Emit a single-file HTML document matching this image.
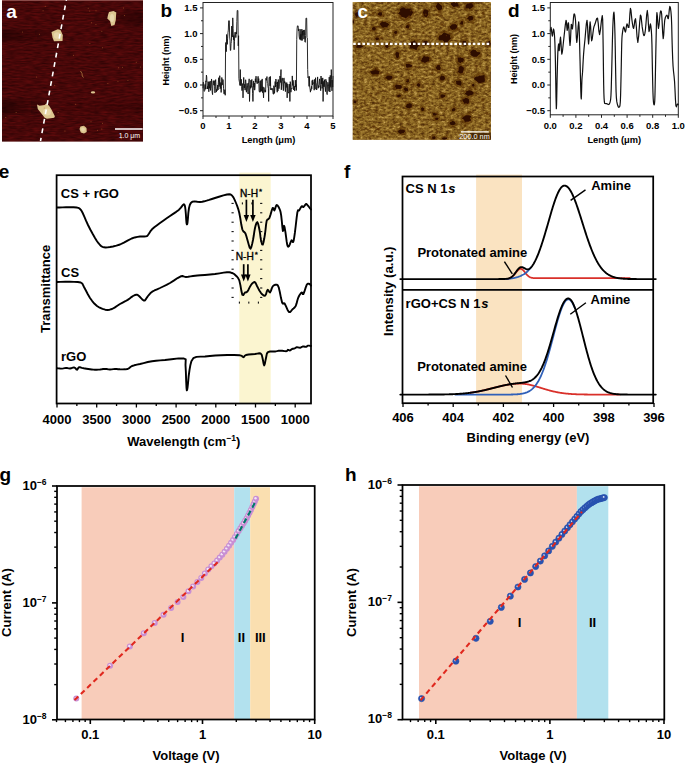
<!DOCTYPE html>
<html><head><meta charset="utf-8"><title>Figure</title>
<style>html,body{margin:0;padding:0;background:#fff;}svg{display:block;}text{font-family:"Liberation Sans", sans-serif;}</style>
</head><body>
<svg width="685" height="763" viewBox="0 0 685 763" font-family="Liberation Sans, sans-serif">
<rect width="685" height="763" fill="#fff"/>
<defs>
<filter id="na" x="0" y="0" width="100%" height="100%" color-interpolation-filters="sRGB">
<feTurbulence type="fractalNoise" baseFrequency="0.12 0.6" numOctaves="2" seed="5"/>
<feColorMatrix type="matrix" values="0.26 0 0 0 0.15  0.04 0 0 0 0.008  0.04 0 0 0 0.012  0 0 0 0 1"/>
</filter>
<filter id="nc" x="0" y="0" width="100%" height="100%" color-interpolation-filters="sRGB">
<feTurbulence type="fractalNoise" baseFrequency="0.28 0.42" numOctaves="3" seed="11"/>
<feColorMatrix type="matrix" values="1 0 0 0 0  1 0 0 0 0  1 0 0 0 0  0 0 0 0 1"/>
<feComponentTransfer><feFuncR type="table" tableValues="0.275 0.298 0.345 0.408 0.471 0.533 0.588 0.659 0.737 0.800 0.843"/><feFuncG type="table" tableValues="0.149 0.169 0.204 0.259 0.325 0.392 0.447 0.514 0.600 0.659 0.698"/><feFuncB type="table" tableValues="0.031 0.035 0.047 0.067 0.098 0.129 0.165 0.216 0.306 0.361 0.400"/></feComponentTransfer>
</filter>
<filter id="bl" x="-50%" y="-50%" width="200%" height="200%"><feGaussianBlur stdDeviation="0.6"/></filter>
<filter id="bl2" x="-50%" y="-50%" width="200%" height="200%"><feGaussianBlur stdDeviation="0.9"/></filter>
<clipPath id="ca"><rect x="2" y="0" width="141" height="141.5"/></clipPath>
<clipPath id="cc"><rect x="352.7" y="1.9" width="138.2" height="137.9"/></clipPath>
</defs>
<g clip-path="url(#ca)">
<rect x="2" y="0" width="141" height="141.5" fill="#5A0E08" />
<rect x="2" y="0" width="141" height="141.5" fill="#000" filter="url(#na)"/>
<linearGradient id="gd1" x1="0" x2="1" y1="0" y2="0"><stop offset="0" stop-color="#1A0201" stop-opacity="0.55"/><stop offset="1" stop-color="#1A0201" stop-opacity="0"/></linearGradient>
<linearGradient id="gd2" x1="1" x2="0" y1="0" y2="0"><stop offset="0" stop-color="#1A0201" stop-opacity="0.5"/><stop offset="1" stop-color="#1A0201" stop-opacity="0"/></linearGradient>
<rect x="2" y="30" width="55" height="11" fill="url(#gd1)" filter="url(#bl2)"/>
<rect x="2" y="100" width="48" height="14" fill="url(#gd1)" filter="url(#bl2)"/>
<rect x="90" y="12" width="53" height="12" fill="url(#gd2)" filter="url(#bl2)"/>
<rect x="60" y="104" width="83" height="6" fill="url(#gd2)" opacity="0.5" filter="url(#bl2)"/>
<rect x="2" y="0" width="141" height="1" fill="#8A4A48" />
<g filter="url(#bl)">
<polygon points="109,12 113.5,11 116.3,12.5 116,16 115.8,20 114.5,25 111.3,26 110,21 107.3,18.5 108,15" fill="#DCC690"/>
<polygon points="51.5,32 57.8,29.2 60.5,30 62.8,35 62.5,41 54,41.3 52.5,37.5" fill="#DCC690"/>
<polygon points="37,104.6 39.6,105.7 44.7,105 46.2,103.5 49.1,105.7 51.6,109.7 54.9,116.3 54.2,117.7 46.9,118.8 44.7,117.7 41.8,114.1 37.8,109" fill="#DCC690"/>
<polygon points="80.5,126.5 84,125.8 86.5,128 86.7,132 84,133.6 80.8,132.5 79.5,129" fill="#DCC690"/>
<ellipse cx="93" cy="92.4" rx="2.2" ry="1.1" fill="#DCC690"/>
<ellipse cx="112" cy="18" rx="2" ry="4" fill="#EEE0B8" opacity="0.7"/>
<ellipse cx="57" cy="35.5" rx="3.2" ry="3.2" fill="#EEE0B8" opacity="0.6"/>
<ellipse cx="47" cy="112" rx="4" ry="3.5" fill="#EEE0B8" opacity="0.6"/>
<ellipse cx="83" cy="129.5" rx="1.8" ry="2" fill="#EEE0B8" opacity="0.6"/>
<polyline points="80.5,71 82,73.5 82.3,76 83.5,77.5" fill="none" stroke="#B07A40" stroke-width="0.8"/>
</g>
<circle cx="36.6" cy="77.1" r="0.5" fill="#B86A30" opacity="0.7"/>
<circle cx="54.68" cy="85.34" r="0.5" fill="#B86A30" opacity="0.7"/>
<circle cx="89.72" cy="11.04" r="0.5" fill="#B86A30" opacity="0.7"/>
<circle cx="5.8" cy="117.57" r="0.5" fill="#B86A30" opacity="0.7"/>
<circle cx="39.53" cy="34.34" r="0.5" fill="#B86A30" opacity="0.7"/>
<circle cx="140.4" cy="66.9" r="0.5" fill="#B86A30" opacity="0.7"/>
<circle cx="118.6" cy="67.74" r="0.5" fill="#B86A30" opacity="0.7"/>
<circle cx="91.55" cy="22.79" r="0.5" fill="#B86A30" opacity="0.7"/>
<circle cx="90.98" cy="121.79" r="0.5" fill="#B86A30" opacity="0.7"/>
<circle cx="75.68" cy="104.29" r="0.5" fill="#B86A30" opacity="0.7"/>
<circle cx="95.98" cy="10.84" r="0.5" fill="#B86A30" opacity="0.7"/>
<circle cx="107.88" cy="83.57" r="0.5" fill="#B86A30" opacity="0.7"/>
<circle cx="45.27" cy="6.28" r="0.5" fill="#B86A30" opacity="0.7"/>
<circle cx="122.58" cy="67.24" r="0.5" fill="#B86A30" opacity="0.7"/>
<circle cx="102.48" cy="123.28" r="0.5" fill="#B86A30" opacity="0.7"/>
<circle cx="101.84" cy="129.11" r="0.5" fill="#B86A30" opacity="0.7"/>
<circle cx="58.11" cy="112.53" r="0.5" fill="#B86A30" opacity="0.7"/>
<circle cx="64.91" cy="131.11" r="0.5" fill="#B86A30" opacity="0.7"/>
<circle cx="124.4" cy="15.45" r="0.5" fill="#B86A30" opacity="0.7"/>
<circle cx="22.63" cy="31.94" r="0.5" fill="#B86A30" opacity="0.7"/>
<circle cx="136.27" cy="62.19" r="0.5" fill="#B86A30" opacity="0.7"/>
<circle cx="89.85" cy="43.54" r="0.5" fill="#B86A30" opacity="0.7"/>
<circle cx="73.49" cy="55.25" r="0.5" fill="#B86A30" opacity="0.7"/>
<circle cx="52.07" cy="82.74" r="0.5" fill="#B86A30" opacity="0.7"/>
<circle cx="84.04" cy="126.78" r="0.5" fill="#B86A30" opacity="0.7"/>
<circle cx="97.43" cy="130.19" r="0.5" fill="#B86A30" opacity="0.7"/>
<circle cx="121.33" cy="138.76" r="0.5" fill="#B86A30" opacity="0.7"/>
<circle cx="95.96" cy="24.51" r="0.5" fill="#B86A30" opacity="0.7"/>
<circle cx="121.91" cy="135.12" r="0.5" fill="#B86A30" opacity="0.7"/>
<circle cx="127.94" cy="80.54" r="0.5" fill="#B86A30" opacity="0.7"/>
<circle cx="101.79" cy="31.14" r="0.5" fill="#B86A30" opacity="0.7"/>
<circle cx="117.93" cy="81.15" r="0.5" fill="#B86A30" opacity="0.7"/>
<circle cx="43.04" cy="10.76" r="0.5" fill="#B86A30" opacity="0.7"/>
<circle cx="120.99" cy="138.59" r="0.5" fill="#B86A30" opacity="0.7"/>
<circle cx="16.13" cy="112.48" r="0.5" fill="#B86A30" opacity="0.7"/>
<circle cx="60.23" cy="22.81" r="0.5" fill="#B86A30" opacity="0.7"/>
<circle cx="44.26" cy="108.09" r="0.5" fill="#B86A30" opacity="0.7"/>
<circle cx="123.57" cy="8.1" r="0.5" fill="#B86A30" opacity="0.7"/>
<circle cx="88.19" cy="8.2" r="0.5" fill="#B86A30" opacity="0.7"/>
<circle cx="102.43" cy="47.67" r="0.5" fill="#B86A30" opacity="0.7"/>
<line x1="66.4" y1="-0.5" x2="40.5" y2="141" stroke="#fff" stroke-width="1.6" stroke-dasharray="4.8 4.81" stroke-dashoffset="3.51"/>
<line x1="115" y1="129" x2="142.6" y2="129" stroke="#fff" stroke-width="1.6" />
<text x="129.4" y="137.6" font-size="7" font-weight="normal" text-anchor="middle" fill="#fff" >1.0 μm</text>
</g>
<text x="6.3" y="17.5" font-size="19" font-weight="bold" text-anchor="start" fill="#fff" >a</text>
<polyline fill="none" stroke="#111" stroke-width="0.9" stroke-linejoin="round" stroke-linecap="round" points="203,87.9 203.34,82.17 203.68,83.72 204.03,91.26 204.37,91.31 204.71,90.52 205.05,84.48 205.39,89.27 205.74,80.89 206.08,81.68 206.42,75.13 206.76,77.15 207.11,89.03 207.45,86.52 207.79,88.85 208.13,81.6 208.47,83.41 208.82,91.77 209.16,81.9 209.5,88.28 209.84,86.34 210.18,81.05 210.53,90.41 210.87,86.05 211.21,82.91 211.55,78.97 211.89,88.33 212.24,92.77 212.58,94.63 212.92,82.64 213.26,80.7 213.61,83.5 213.95,85.17 214.29,80.63 214.63,86.35 214.97,92.83 215.32,82.84 215.66,79.61 216,86.44 216.34,92.08 216.68,89.37 217.03,90.88 217.37,89.48 217.71,84.99 218.05,89.95 218.39,82.16 218.74,77.69 219.08,86.62 219.42,85.4 219.76,75.69 220.11,88.75 220.45,88.06 220.79,82.49 221.13,92.43 221.47,86.77 221.82,77.51 222.16,85.06 222.5,82.76 222.84,79.41 223.18,80.11 223.53,88.3 223.87,93.26 224.21,94.1 224.55,91.8 224.89,89.68 225.24,95.26 225.58,44.2 225.92,42.43 226.26,51.66 226.61,34.51 226.95,38.11 227.29,44.36 227.63,38.22 227.97,32.67 228.32,30.11 228.66,20.75 229,20.75 229.34,20.75 229.68,36.95 230.03,40.15 230.37,50.49 230.71,50.33 231.05,43.52 231.39,41.73 231.74,26.12 232.08,36.31 232.42,37.04 232.76,17.86 233.11,28.47 233.45,39.75 233.79,35.61 234.13,49.72 234.47,41.47 234.82,32.26 235.16,32.64 235.5,32.62 235.84,37.55 236.18,31.91 236.53,34.02 236.87,21.6 237.21,10.47 237.55,10.47 237.89,10.47 238.24,45.87 238.58,35.71 238.92,78.62 239.26,81.32 239.61,82.12 239.95,85.46 240.29,69.58 240.63,85.53 240.97,82.99 241.32,79.3 241.66,86.53 242,90.65 242.34,83.99 242.68,83.56 243.03,97.85 243.37,85.57 243.71,77.44 244.05,84.79 244.39,87.97 244.74,84.23 245.08,90.12 245.42,79.9 245.76,79.82 246.11,89.74 246.45,92.23 246.79,85.37 247.13,83.32 247.47,85.92 247.82,91.49 248.16,94.01 248.5,82.69 248.84,82.54 249.18,78.83 249.53,101.45 249.87,90.44 250.21,85.63 250.55,88.34 250.89,80.16 251.24,87.43 251.58,79.89 251.92,79.41 252.26,85.46 252.61,93.58 252.95,101.45 253.29,90.36 253.63,80.92 253.97,87.15 254.32,83.06 254.66,90.16 255,87.57 255.34,78.75 255.68,82.06 256.03,76.2 256.37,81.09 256.71,82.77 257.05,83.83 257.39,83.55 257.74,80.11 258.08,76.35 258.42,82.92 258.76,78.62 259.11,90.77 259.45,91.93 259.79,92.27 260.13,80.92 260.47,91.6 260.82,83.58 261.16,80.18 261.5,91.31 261.84,88.55 262.18,78.93 262.53,92.62 262.87,86.79 263.21,91.99 263.55,97.85 263.89,87.37 264.24,88.37 264.58,89.57 264.92,92.27 265.26,90.04 265.61,92.07 265.95,78.21 266.29,80.33 266.63,78.45 266.97,76.55 267.32,83.01 267.66,83.46 268,86.82 268.34,88.25 268.68,101.45 269.03,77.98 269.37,77.12 269.71,77.12 270.05,85.88 270.39,76.42 270.74,89.79 271.08,88.28 271.42,89.87 271.76,89.55 272.11,88.2 272.45,88.79 272.79,90.98 273.13,93.93 273.47,94.26 273.82,85.71 274.16,87.17 274.5,93.39 274.84,88.13 275.18,81.55 275.53,86.93 275.87,79.03 276.21,81.36 276.55,84.4 276.89,88.91 277.24,92.22 277.58,81.86 277.92,91.02 278.26,79.53 278.61,81.98 278.95,88.68 279.29,84.78 279.63,84.7 279.97,75.95 280.32,82.54 280.66,75.48 281,69.58 281.34,89.8 281.68,80.38 282.03,78.46 282.37,77.9 282.71,81.86 283.05,86.8 283.39,90.6 283.74,78.25 284.08,77.93 284.42,83.14 284.76,81.45 285.11,88.98 285.45,91.61 285.79,82.55 286.13,87.53 286.47,86.51 286.82,82.64 287.16,97.85 287.5,85.65 287.84,84.05 288.18,91.46 288.53,92.97 288.87,93.28 289.21,85.62 289.55,84.26 289.89,101.45 290.24,81.65 290.58,84.82 290.92,92.18 291.26,88.77 291.61,88.21 291.95,88.88 292.29,75.91 292.63,85.41 292.97,80.24 293.32,81.18 293.66,89.95 294,86.99 294.34,86.18 294.68,91.05 295.03,86.96 295.37,80.18 295.71,87.01 296.05,84.42 296.39,90.42 296.74,39.57 297.08,28.76 297.42,25.89 297.76,25.89 298.11,25.89 298.45,30.96 298.79,28.9 299.13,36.1 299.47,38.61 299.82,39.43 300.16,29.22 300.5,39.41 300.84,34.27 301.18,40.37 301.53,35.07 301.87,29.12 302.21,40.5 302.55,30.96 302.89,35.28 303.24,30.03 303.58,32.58 303.92,39.13 304.26,29.88 304.61,35.59 304.95,41.99 305.29,42.29 305.63,35.51 305.97,18.18 306.32,18.18 306.66,18.18 307,37.56 307.34,37.95 307.68,69.58 308.03,77.82 308.37,76.63 308.71,77.32 309.05,86.34 309.39,76.37 309.74,87.21 310.08,88.97 310.42,92.17 310.76,89.47 311.11,90.36 311.45,86.32 311.79,88.8 312.13,80.56 312.47,84.84 312.82,79.8 313.16,83.43 313.5,83.16 313.84,82.7 314.18,90.2 314.53,79.43 314.87,86.64 315.21,89.21 315.55,77.72 315.89,82.64 316.24,83.91 316.58,89.98 316.92,88.98 317.26,83.92 317.61,76.91 317.95,84.18 318.29,88.23 318.63,85.64 318.97,87.25 319.32,81.8 319.66,78.88 320,84.51 320.34,85.27 320.68,90.66 321.03,76.02 321.37,83.95 321.71,78.36 322.05,88.43 322.39,86.66 322.74,77.9 323.08,101.45 323.42,87.25 323.76,81.31 324.11,86.73 324.45,79.69 324.79,86.46 325.13,87.86 325.47,91.6 325.82,79.27 326.16,81.6 326.5,81.12 326.84,93.45 327.18,94.59 327.53,84.97 327.87,82.26 328.21,83.38 328.55,86.14 328.89,91.35 329.24,77.12 329.58,88.02 329.92,92 330.26,75.36 330.61,86.32 330.95,87.37 331.29,69.58 331.63,79.59 331.97,90.82 332.32,80.14 332.66,87.12 333,76.31" />
<rect x="203" y="2.5" width="130" height="113.5" fill="none" stroke="#222" stroke-width="1"/>
<line x1="200" y1="110.7" x2="203" y2="110.7" stroke="#222" stroke-width="1" />
<text x="197.5" y="114" font-size="9.5" font-weight="bold" text-anchor="end" fill="#000" >−0.5</text>
<line x1="201" y1="97.85" x2="203" y2="97.85" stroke="#222" stroke-width="1" />
<line x1="200" y1="85" x2="203" y2="85" stroke="#222" stroke-width="1" />
<text x="197.5" y="88.3" font-size="9.5" font-weight="bold" text-anchor="end" fill="#000" >0.0</text>
<line x1="201" y1="72.15" x2="203" y2="72.15" stroke="#222" stroke-width="1" />
<line x1="200" y1="59.3" x2="203" y2="59.3" stroke="#222" stroke-width="1" />
<text x="197.5" y="62.6" font-size="9.5" font-weight="bold" text-anchor="end" fill="#000" >0.5</text>
<line x1="201" y1="46.45" x2="203" y2="46.45" stroke="#222" stroke-width="1" />
<line x1="200" y1="33.6" x2="203" y2="33.6" stroke="#222" stroke-width="1" />
<text x="197.5" y="36.9" font-size="9.5" font-weight="bold" text-anchor="end" fill="#000" >1.0</text>
<line x1="201" y1="20.75" x2="203" y2="20.75" stroke="#222" stroke-width="1" />
<line x1="200" y1="7.9" x2="203" y2="7.9" stroke="#222" stroke-width="1" />
<text x="197.5" y="11.2" font-size="9.5" font-weight="bold" text-anchor="end" fill="#000" >1.5</text>
<line x1="203" y1="116" x2="203" y2="119" stroke="#222" stroke-width="1" />
<text x="203" y="128.9" font-size="9.5" font-weight="bold" text-anchor="middle" fill="#000" >0</text>
<line x1="216" y1="116" x2="216" y2="118" stroke="#222" stroke-width="1" />
<line x1="229" y1="116" x2="229" y2="119" stroke="#222" stroke-width="1" />
<text x="229" y="128.9" font-size="9.5" font-weight="bold" text-anchor="middle" fill="#000" >1</text>
<line x1="242" y1="116" x2="242" y2="118" stroke="#222" stroke-width="1" />
<line x1="255" y1="116" x2="255" y2="119" stroke="#222" stroke-width="1" />
<text x="255" y="128.9" font-size="9.5" font-weight="bold" text-anchor="middle" fill="#000" >2</text>
<line x1="268" y1="116" x2="268" y2="118" stroke="#222" stroke-width="1" />
<line x1="281" y1="116" x2="281" y2="119" stroke="#222" stroke-width="1" />
<text x="281" y="128.9" font-size="9.5" font-weight="bold" text-anchor="middle" fill="#000" >3</text>
<line x1="294" y1="116" x2="294" y2="118" stroke="#222" stroke-width="1" />
<line x1="307" y1="116" x2="307" y2="119" stroke="#222" stroke-width="1" />
<text x="307" y="128.9" font-size="9.5" font-weight="bold" text-anchor="middle" fill="#000" >4</text>
<line x1="320" y1="116" x2="320" y2="118" stroke="#222" stroke-width="1" />
<line x1="333" y1="116" x2="333" y2="119" stroke="#222" stroke-width="1" />
<text x="333" y="128.9" font-size="9.5" font-weight="bold" text-anchor="middle" fill="#000" >5</text>
<text x="268.5" y="143.3" font-size="9.3" font-weight="bold" text-anchor="middle" fill="#000" >Length (μm)</text>
<text transform="translate(168.8,60.5) rotate(-90)" font-size="9" font-weight="bold" text-anchor="middle" fill="#000">Height (nm)</text>
<text x="160.5" y="17.3" font-size="19" font-weight="bold" text-anchor="start" fill="#000" >b</text>
<g clip-path="url(#cc)">
<rect x="352.7" y="1.9" width="138.2" height="137.9" fill="#A87A30" />
<rect x="352.7" y="1.9" width="138.2" height="137.9" fill="#000" filter="url(#nc)"/>
<g filter="url(#bl)">
<polygon points="360.39,14.5 360.08,16.96 358.06,18.78 355.77,18.51 354.01,16.81 353.76,14.5 353.95,12.29 355.78,10.76 358.07,10.95 360.35,11.89" fill="#5A3208" opacity="0.55"/>
<polygon points="358.53,14.14 358.18,15.27 357.66,16.33 357.54,17.04 356.53,17.21 355.67,16.03 355.35,15.15 355.77,14.32 356.06,13.11 356.65,12.77 357.66,11.9 358.32,12.56 358.8,13.41" fill="#2E0C03"/>
<polygon points="357.75,14.66 358.01,15.79 357.39,15.75 356.8,16.08 355.93,15.85 355.99,15.5 354.81,14.82 355.27,14.06 355.43,13.1 355.94,12.81 356.84,12.6 357.13,13.24 358.14,13.32" fill="#2E0C03"/>
<polygon points="414.49,13 412.8,17.14 408.44,20.98 403.09,20.18 398.55,17.78 396.33,13 399.03,7.87 402.97,5.43 408.98,5.61 412.92,8.7" fill="#5A3208" opacity="0.55"/>
<polygon points="413.19,11.93 411.03,15.9 407.99,16.36 407.15,17.45 404.42,16.94 402.57,16.69 398.04,13.56 400.3,11.27 399.6,9.04 403.58,7.36 405.66,8.71 410.89,8.4 412.16,11.19" fill="#2E0C03"/>
<polygon points="410.01,13.76 409.44,14.96 407.36,15.8 406.04,18.64 404.85,17.63 401.04,16.42 401.68,13.98 399.56,12.15 403.36,10.74 403.91,10.54 405.41,9.19 408.42,8.61 409.16,11.93" fill="#2E0C03"/>
<polygon points="384.74,14 383.89,16.02 381.69,17.24 379.24,17.69 377.06,15.93 376.08,14 376.87,11.68 379.36,10.52 381.66,10.26 383.63,11.72" fill="#5A3208" opacity="0.55"/>
<polygon points="382.05,13.91 382.24,14.65 381.32,15.38 380.77,15.79 379.66,15.12 378.8,15.11 377.7,14.33 378.07,13.68 378.82,12.78 379.16,12.2 381.11,12.49 381.95,12.02 381.79,13.23" fill="#2E0C03"/>
<polygon points="381.65,14.45 381.02,14.81 380.84,15.47 380.15,15.61 379.51,15.41 378.93,15.37 378.11,14.85 378.1,13.74 378.86,13.56 379.28,13.04 380.36,12.53 380.7,13.06 381.72,13.57" fill="#2E0C03"/>
<polygon points="391.16,24.75 389.5,27.86 386.24,29.89 382.14,29.69 379.38,27.97 378.02,24.75 378.65,21.5 382,20.59 386.07,20.24 389.2,22.08" fill="#5A3208" opacity="0.55"/>
<polygon points="389.33,24.46 387.49,26.27 387.77,27.4 384.33,27.07 382.92,27.71 381.48,26.22 380.63,24.9 379.35,24.26 380.47,23 382.22,22.08 384.32,22.12 386.97,22.77 387.97,23.26" fill="#2E0C03"/>
<polygon points="386.45,24.13 387.58,25.25 386.43,26.13 383.5,26.78 383.15,26.46 381.58,26.14 381.04,24.53 380.39,24.12 381.3,23.15 382.2,21.59 383.87,22.47 386.25,22.17 385.75,23.48" fill="#2E0C03"/>
<polygon points="377.41,29 377.02,31.02 375.22,32.8 372.74,32.84 371.37,31.21 370.69,29 370.83,26.69 372.95,25.87 375.23,25.4 377.07,26.85" fill="#5A3208" opacity="0.55"/>
<polygon points="375.58,28.85 375.74,29.74 374.55,30.15 374.51,30.69 373.41,30.28 373.13,29.92 372.41,29.72 372.18,28.41 372.91,28.27 373.66,27.24 374.16,27.05 375.14,27.64 375.68,27.72" fill="#2E0C03"/>
<polygon points="375.14,28.46 374.67,29.11 374.41,29.75 374.15,30.19 372.89,30.1 372.8,29.24 371.97,28.77 372.01,28.1 372.92,27.51 373.38,26.79 373.94,27.6 374.49,27.26 375.18,27.85" fill="#2E0C03"/>
<polygon points="411.53,26.55 410.99,28.77 408.91,29.85 406.35,30.16 404.42,28.88 403.56,26.55 404.93,24.4 406.58,22.96 408.89,23.11 410.4,24.6" fill="#5A3208" opacity="0.55"/>
<polygon points="409.59,26.18 408.91,27.04 408.41,28.2 407.58,28.36 407.33,28.02 406.23,27.89 405.59,26.83 406.2,26.1 406.38,25.49 407.1,25.12 407.89,24.82 408.53,24.58 409.57,25.62" fill="#2E0C03"/>
<polygon points="409.19,27.05 408.79,27.21 408.67,28.08 408.06,28.66 407.61,27.94 406.51,27.8 406.89,27.04 406.19,26.46 406.84,25.86 407.28,25.36 408.15,25.2 409.03,25.57 408.93,26.17" fill="#2E0C03"/>
<polygon points="399.42,32.45 398.82,34.32 396.9,36.03 394.8,35.56 392.88,34.29 392.04,32.45 392.85,30.53 394.76,29.42 396.81,29.01 398.34,30.34" fill="#5A3208" opacity="0.55"/>
<polygon points="396.98,32.38 396.79,32.82 396.48,33.7 396.26,34.28 395.31,33.43 394.44,33.41 394.27,32.85 394.47,31.87 394.57,31.28 395.19,31.18 396.12,30.83 396.61,31.16 397.25,31.44" fill="#2E0C03"/>
<polygon points="396.34,32.56 396.45,33.21 396.18,33.45 395.7,33.98 395.01,33.62 394.74,33.23 394.44,32.92 393.9,32.15 394.57,32.04 395.01,31.7 395.45,31.15 395.97,31.36 396.14,32.17" fill="#2E0C03"/>
<polygon points="380.46,38.85 379.69,40.61 378.16,42.16 375.85,42.04 374.37,40.66 373.47,38.85 374.12,36.82 375.99,35.78 378.25,35.58 380.04,37.1" fill="#5A3208" opacity="0.55"/>
<polygon points="379.02,39.14 378.5,39.6 378.06,39.75 377.11,40.34 376.35,40.38 376.06,39.77 375.57,39.33 375.1,38.3 375.72,38.19 376.05,37.55 377.14,37.73 378.13,37.43 378.71,38.1" fill="#2E0C03"/>
<polygon points="378.41,38.85 378.43,39.21 377.92,39.58 377.56,40.16 376.76,39.66 376.42,39.53 375.88,38.92 376.02,38.56 376.17,38.09 376.75,37.76 377.21,37.9 378.14,37.78 378.4,38.41" fill="#2E0C03"/>
<polygon points="364.5,46.25 364.04,48.09 360.85,49.73 357.15,49.89 353.93,48.14 352.56,46.25 354.49,44 357.37,43.07 360.83,43.17 363.38,44.09" fill="#5A3208" opacity="0.55"/>
<polygon points="363.29,46.47 362.38,47.35 360.4,47.65 359.14,47.79 356.99,47.68 356.18,47.4 356.45,46.62 356.35,46.02 356.75,45.68 357.48,44.59 358.77,44.59 360.53,44.86 361.86,45.46" fill="#2E0C03"/>
<polygon points="362.62,46.11 361.82,46.53 361.12,47.46 359.26,47.21 358.43,47.16 356.7,47.07 357.08,46.59 357.1,45.72 357.03,45.14 357.99,44.88 359.23,45.08 360.57,45.19 361.05,45.69" fill="#2E0C03"/>
<polygon points="421.63,45.2 420.02,49.11 416.87,51.97 412.65,50.94 409.14,48.68 407.57,45.2 409.79,41.61 412.76,38.52 416.87,38.59 420.22,41.58" fill="#5A3208" opacity="0.55"/>
<polygon points="419.78,45.06 417.06,47.15 416.81,50.05 415.33,49.87 413.19,48.2 410.53,48.63 409.54,45.67 410.05,44.84 410.81,41.72 412.68,41.39 414.55,40.2 416.55,42.92 417.4,43.47" fill="#2E0C03"/>
<polygon points="419.18,44.76 417.5,47.52 416.65,48.09 415.26,48.65 413.75,49.18 413.12,47.72 412.32,45.89 410.89,45.22 412.44,43.75 413.83,42.92 415.23,42.08 416.48,42.42 416.93,43.99" fill="#2E0C03"/>
<polygon points="400.91,54.9 400.32,57.7 398.57,59.86 396.04,59.99 393.91,57.72 393.19,54.9 394.03,51.77 395.99,49.62 398.4,49.92 400.81,51.93" fill="#5A3208" opacity="0.55"/>
<polygon points="398.92,55.12 398.81,56.41 398.17,56.92 397.77,58.37 396.38,57.75 396.16,56.83 395.65,55.03 395.11,54.08 395.73,52.91 396.85,51.55 397.28,52.14 398.44,52.19 398.78,53.91" fill="#2E0C03"/>
<polygon points="398.81,54.4 398.62,55.57 398.52,57.39 397.38,57.28 396.71,56.8 395.95,56.62 396.15,55.64 396.07,54.39 396.59,53.72 396.89,51.94 397.48,52.93 398.42,52.43 399,53.28" fill="#2E0C03"/>
<polygon points="413.31,65.7 412.96,68.15 409.95,69.93 406.75,69.48 403.9,68.11 403.7,65.7 403.94,63.37 407.07,62.21 409.99,61.82 412.88,63.38" fill="#5A3208" opacity="0.55"/>
<polygon points="411.89,65.56 411.39,66.42 410.05,66.83 408.93,67.2 407.46,67.8 405.73,67.25 406.31,66.07 405.78,65.08 405.8,63.78 407.61,64.11 408.7,63.69 409.66,64.4 411.41,64.59" fill="#2E0C03"/>
<polygon points="411.93,66.29 411.46,66.76 411.1,67.35 409.13,67.37 408.33,67.3 407.13,66.88 405.98,66.26 406.93,65.49 406.58,64.73 408.66,64.73 409.24,64.1 410.43,64.94 411.82,65" fill="#2E0C03"/>
<polygon points="390.12,46.5 389.9,48.55 388.03,49.5 385.51,49.87 383.85,48.24 383.23,46.5 383.99,44.61 385.47,43.7 387.94,43.46 390.12,44.63" fill="#5A3208" opacity="0.55"/>
<polygon points="388.14,46.6 388.13,47.2 387.69,48.05 386.96,47.73 386.36,47.59 385.81,47.28 385.48,46.64 384.92,46.11 385.47,45.5 386.46,45.39 386.67,45.12 387.9,45 388.66,46.05" fill="#2E0C03"/>
<polygon points="388.42,46.3 388.3,46.7 388,47.25 387.54,47.33 386.7,47.64 385.94,47.03 385.55,46.68 385.38,45.89 386.2,45.69 386.78,45.59 387.37,45.41 387.8,45.69 388.12,45.95" fill="#2E0C03"/>
<polygon points="378.77,71.75 378.74,74.59 376.65,76.81 374.23,76.2 372.37,74.87 371.55,71.75 372.53,68.63 374.43,67.04 376.68,66.62 378.3,68.71" fill="#5A3208" opacity="0.55"/>
<polygon points="377.41,71.72 377.42,73.62 376.7,73.89 375.69,74.14 374.81,73.65 374.65,73.23 373.61,72.32 373.31,71.28 374.49,70.13 375.1,68.33 375.6,68.26 376.2,69.44 377.46,69.95" fill="#2E0C03"/>
<polygon points="376.97,71.25 376.9,72.53 376.19,73.41 375.26,73.5 374.74,73.86 374.29,72.93 374.08,71.93 374.34,71.4 374.24,69.91 375.03,69.83 375.56,69.4 376.27,69.32 376.49,70.56" fill="#2E0C03"/>
<polygon points="355.76,21.75 355.35,23.78 353.73,25 352.09,25.4 350.88,23.65 350.05,21.75 351.1,19.86 352.18,18.35 353.74,18.62 355.28,19.81" fill="#5A3208" opacity="0.55"/>
<polygon points="353.98,21.71 353.93,22.59 353.64,23.39 353,23.49 352.67,23.28 352.54,22.54 351.96,21.91 351.99,21.11 352.16,20.39 352.58,19.89 352.96,20.34 353.62,20.27 353.92,20.92" fill="#2E0C03"/>
<polygon points="353.68,22.06 353.67,22.29 353.38,22.65 353.16,23.28 352.76,23.26 352.58,22.69 352.06,22.16 352.19,21.81 352.35,21.07 352.69,21.17 352.9,20.38 353.36,20.82 353.57,21.1" fill="#2E0C03"/>
<polygon points="444.19,6.75 443.06,10.25 440.57,12.05 437.36,11.77 434.74,9.82 433.94,6.75 434.54,3.3 437.56,1.95 440.34,1.67 443,3.72" fill="#5A3208" opacity="0.55"/>
<polygon points="441.85,6.47 442.07,8.63 441.22,9.75 439.07,9.94 438.33,10.27 436.88,8.44 436.17,7.27 435.58,6.44 436.77,4.79 438.04,2.83 439.55,3.84 440.33,4.86 441.22,5.35" fill="#2E0C03"/>
<polygon points="442.06,7.37 441.38,8.2 440.83,8.89 440.06,10.09 438.89,10.4 437.84,8.77 437.53,8.14 437.84,6.63 438.26,5.27 438.76,5.07 439.6,4.92 440.54,5.76 441.45,5.74" fill="#2E0C03"/>
<polygon points="460.72,4.7 459.58,7.01 456.52,8.83 452.78,8.82 450,7.39 449.08,4.7 450.26,2.04 452.88,0.35 456.77,0.21 460.18,2.28" fill="#5A3208" opacity="0.55"/>
<polygon points="458.36,4.58 458.55,6.54 456.26,6.53 455.57,6.55 453,7.12 453.16,5.97 451.41,4.79 451.12,4.57 450.99,3.19 453.38,2.32 455.57,2.97 456.82,2.24 457.98,3.73" fill="#2E0C03"/>
<polygon points="458.2,5.29 457.52,6.35 455.87,5.83 454.42,6.45 453.39,6.59 451.98,5.79 452.2,5.44 451.16,3.97 451.23,3.52 453.08,2.88 454.98,2.57 455.63,3.76 457.7,3.84" fill="#2E0C03"/>
<polygon points="475.22,6.05 474.13,8.99 471.1,10.65 467.43,11.52 464.3,9.29 463.73,6.05 464.31,3.09 467.66,0.69 471,0.94 474.77,3.16" fill="#5A3208" opacity="0.55"/>
<polygon points="474.2,6.12 472.28,6.9 470.69,8.39 469.53,9.48 468.87,8.14 465.44,8.27 465.66,6.53 465.49,5.8 466.48,4.6 467.32,3.45 469.65,3.46 470.59,4.12 471.55,4.61" fill="#2E0C03"/>
<polygon points="473.25,5.45 472.63,6.29 471.78,7.89 470.79,7.53 469.15,6.88 467.62,6.66 467.34,5.77 468.19,4.75 468.12,3.96 469.32,3.66 470.92,3 472.15,3.52 472.75,4.63" fill="#2E0C03"/>
<polygon points="430.73,13.15 430.09,16.03 427.47,18.21 424.5,17.93 422.15,16.69 421.74,13.15 421.75,10.03 424.69,8.04 427.62,8.65 430.05,9.77" fill="#5A3208" opacity="0.55"/>
<polygon points="427.95,12.81 428.02,14.47 427.37,15.93 426.75,17.08 425.49,16.9 423.74,16.05 423.49,13.76 422.81,12.65 423.81,10.01 424.93,9.32 426.8,9.76 427.44,10.23 428.69,11.16" fill="#2E0C03"/>
<polygon points="428.49,14.28 427.84,14.64 427.39,15.46 426.55,15.98 425.34,15.54 423.83,15.53 424.34,14.1 424.06,13.43 424.17,11.56 425.26,12.21 426.44,12.09 427.24,12.33 428.05,13.1" fill="#2E0C03"/>
<polygon points="475.46,18 474.67,20.71 471.77,22.8 468.71,22.27 465.68,21.03 464.67,18 466.21,15.5 468.49,14.01 471.66,14.04 474.3,14.89" fill="#5A3208" opacity="0.55"/>
<polygon points="473.54,17.73 472.35,18.86 472.07,20.84 470.74,19.84 468.99,21.17 468.77,19.59 466.79,18.56 468.13,17.59 468.56,16.67 469.11,16.37 470.85,16.12 472.2,15.39 472.48,16.61" fill="#2E0C03"/>
<polygon points="473.12,17.83 472.92,19.68 471.38,19.44 471.4,20.11 470.19,20.77 469,19.66 468.44,18.28 468.95,17.54 468.63,16.55 470,16.53 471.27,16.25 472.16,16.76 472.41,17.54" fill="#2E0C03"/>
<polygon points="465.43,22.85 464.71,24.89 463,26.6 460.64,25.99 459.26,24.99 458.63,22.85 458.94,20.55 460.78,19.22 463,19.12 464.33,20.96" fill="#5A3208" opacity="0.55"/>
<polygon points="463.05,22.68 462.79,23.5 462.66,23.77 461.93,24.33 461.21,23.96 460.23,23.88 460.19,23.35 460.66,22.47 460.86,21.63 461.13,21 461.7,21.47 462.53,21.15 463.28,21.82" fill="#2E0C03"/>
<polygon points="463.18,23.15 463,24.01 462.93,24.38 462,24.56 461.7,24.26 460.89,24.39 460.45,23.8 460.78,23.07 460.93,22.1 461.73,22.11 462.09,22.32 462.87,22.04 462.91,22.66" fill="#2E0C03"/>
<polygon points="458.46,27.25 457.98,30.52 455.38,32.46 452.11,31.91 449.08,29.87 448.18,27.25 449.8,24.54 451.87,22.91 455.37,22.61 457.89,24.06" fill="#5A3208" opacity="0.55"/>
<polygon points="456.93,27.63 456.36,28.06 454.76,29.46 453.87,29.55 452.08,30.11 450.8,28.87 450.16,28.56 449.72,26.27 451.54,25.56 452.4,24.51 454.34,24.23 455.87,25.12 456.88,25.28" fill="#2E0C03"/>
<polygon points="457.15,26.65 455.73,27.55 455.33,29.03 454.72,29.17 452.73,28.78 451.8,27.9 451.49,27.75 451.03,25.65 451.83,24.55 453.44,24.52 453.92,24.9 455.37,24.07 457.04,25.69" fill="#2E0C03"/>
<polygon points="453.89,37.3 451.77,40.66 447.14,43.29 442.33,43.17 437.7,40.78 436.77,37.3 437.81,33.19 442.07,30.85 447.5,30.7 452.17,33.5" fill="#5A3208" opacity="0.55"/>
<polygon points="450.02,36.97 449.85,39.35 447.69,39.81 444.9,42.69 442.72,40.18 439.06,40.25 438.41,38.3 439.26,35.77 441.44,34.95 443.3,33.12 444.68,32.87 448.55,34.35 450.41,34.83" fill="#2E0C03"/>
<polygon points="451.09,38.14 449.73,39.46 448.66,40.76 447.13,42.32 444.05,42.37 443.85,40.36 441.47,39.88 442.51,37.96 441.96,35.36 444.8,34.29 447.78,35.18 449.01,35 449.26,37.04" fill="#2E0C03"/>
<polygon points="468.87,43 468.29,45.71 465.87,47.13 463.27,47.48 461.09,45.94 460.22,43 460.76,40.22 463.35,38.51 465.91,38.87 468.36,40.27" fill="#5A3208" opacity="0.55"/>
<polygon points="466.32,42.86 467.03,43.81 465.95,45.82 464.81,45.17 463.85,45.05 463.26,44.73 463.03,43.75 463.1,42.18 463.06,40.67 464.19,41.09 465.01,40.91 465.93,40.91 466.3,42.38" fill="#2E0C03"/>
<polygon points="466.03,43.15 465.62,43.73 464.97,45.06 464.24,44.55 463.58,45.7 463.07,44.24 462.56,43.67 462.71,42.74 462.5,41.58 463.33,41.03 464.03,41.17 465.04,41.74 465.4,42.54" fill="#2E0C03"/>
<polygon points="492.47,43.5 491.92,45.84 489.97,47.28 487.72,47.37 485.76,46.09 485.02,43.5 486.15,40.92 487.81,39.94 490,39.81 491.5,41.17" fill="#5A3208" opacity="0.55"/>
<polygon points="490.65,43.44 490.47,44.47 490.21,45.55 488.91,45.61 488.33,45.37 487.26,45.03 487.65,43.62 487.64,42.79 487.58,42.38 488.52,41.92 489.28,40.72 490.22,41.51 490.11,42.36" fill="#2E0C03"/>
<polygon points="490.38,43.69 489.94,44.03 489.58,45.26 488.8,44.65 488.45,44.67 487.93,44.21 487.6,43.57 487.15,43.22 487.49,42.01 488.26,41.81 488.58,41.2 489.37,42.18 489.8,42.19" fill="#2E0C03"/>
<polygon points="482.51,53.65 481.01,57.19 476.69,58.37 472.53,58.28 469,57.06 468.04,53.65 469.32,50.24 472.74,49.01 476.64,48.43 479.76,50.34" fill="#5A3208" opacity="0.55"/>
<polygon points="480.31,53.47 478.26,55.27 477.03,56.64 475.07,56.69 473.65,56.81 471.35,55.66 471.03,53.77 470.28,52.34 470.63,51.87 472.53,50.84 475.31,49.93 477.05,51.97 480.29,52.32" fill="#2E0C03"/>
<polygon points="476.39,52.86 477.31,53.73 476.38,54.93 474.74,55.63 472.69,54.6 470.04,54.85 471.14,52.97 470.65,52.18 470.99,51.3 471.7,50.52 473.65,49.76 475.5,50.4 476.12,52.08" fill="#2E0C03"/>
<polygon points="465.23,59.9 464.6,62.49 461.89,64.18 458.63,64.08 455.82,62.47 454.66,59.9 455.69,57.14 458.56,55.41 462.1,54.95 464.35,57.38" fill="#5A3208" opacity="0.55"/>
<polygon points="463.52,59.6 462.93,60.7 461.95,61.41 460.38,63.2 459.07,62.24 457.65,61.37 458.25,60.31 457.85,59.49 457.53,57.42 459.54,57.61 460.98,57.97 461.89,58.45 463.89,58.98" fill="#2E0C03"/>
<polygon points="463.63,60 463.43,61.1 463.02,61.97 461.15,61.74 460.41,62.62 459.65,61.29 459.14,60.29 459.16,59.46 458.99,58.21 460.46,57.21 461.9,58.1 463.13,58.04 463.54,58.97" fill="#2E0C03"/>
<polygon points="431.86,59.35 430.62,62.21 427.04,64.01 423.3,64.42 420.61,62.39 419.28,59.35 420.41,56.09 423.61,54.58 427.11,54.03 430.21,56.01" fill="#5A3208" opacity="0.55"/>
<polygon points="428.96,59.69 429.11,61.21 427.3,61.47 425.7,62.53 424.57,62.5 421.37,61.43 421.17,60.15 422.58,58.91 422.75,56.88 424,56.1 426.25,56.69 427.77,56.39 429.54,57.75" fill="#2E0C03"/>
<polygon points="426.86,59.48 427.5,61.14 425.61,62.27 424.6,62.7 423.8,62.2 422.71,61.13 421.84,60.58 421.89,59.7 421.71,58.14 423.69,57.68 425.06,57.07 425.31,58.02 426.45,59.25" fill="#2E0C03"/>
<polygon points="442.84,67.7 442.14,70.47 439.83,71.52 437,72.3 434.78,70.58 434.53,67.7 434.52,65.23 437.12,63.72 439.69,63.58 441.89,65.26" fill="#5A3208" opacity="0.55"/>
<polygon points="440.31,67.58 440.45,69.32 439.74,70.33 438.26,69.77 437.98,70.38 436.73,69.05 435.7,67.92 436.05,67.03 437,66.49 437.28,65.26 438.67,65.32 440.19,65.33 439.76,66.66" fill="#2E0C03"/>
<polygon points="440.58,67.37 440.44,68.39 439.92,68.93 438.63,69.61 438.04,69.35 437.16,69.05 437.03,68.16 436.6,66.51 437.4,66.03 438.09,65.23 438.89,65.27 439.4,66.1 439.9,66.4" fill="#2E0C03"/>
<polygon points="465.61,70 465.06,73.53 462.35,75.03 459.44,75.95 456.68,73.53 456.22,70 456.99,66.76 459.27,64.31 462.23,65.12 464.77,66.4" fill="#5A3208" opacity="0.55"/>
<polygon points="463.76,69.46 463.13,71.38 462.79,72.78 460.87,73.57 459.79,73.33 458.46,72.35 457.72,71.92 459.01,69.41 458.73,67.04 459.74,66.6 460.7,65.99 462.92,66.74 463.92,67.9" fill="#2E0C03"/>
<polygon points="462.67,68.6 462.45,69.86 462.42,71.21 460.67,72.56 460.12,71.68 459.02,70.96 458.71,69.41 458.85,68.89 458.68,67.43 460.37,66.13 461.21,66.15 461.99,67.46 462.51,67.91" fill="#2E0C03"/>
<polygon points="430.06,42.6 429.51,44.74 426.98,46.52 424.5,45.93 421.76,44.92 421.61,42.6 421.98,40.19 424.17,38.6 427.15,39.36 429.52,40.4" fill="#5A3208" opacity="0.55"/>
<polygon points="428.04,42.24 427.43,43.41 426.4,43.82 425.61,44.94 425.14,44.77 423.94,43.71 423.35,43.1 423.18,41.74 423.96,41.43 424.55,40.93 426.37,40.68 427.07,41.17 428.46,41.96" fill="#2E0C03"/>
<polygon points="427.31,42.92 427.13,43.42 426.52,43.9 425.59,44.41 425,44.2 424.48,43.57 424.06,43.37 423.89,42.54 424.46,42.08 425.43,41.43 426.04,41.66 426.62,41.28 427.69,41.92" fill="#2E0C03"/>
<polygon points="380.61,72.5 380.26,74.8 377.07,76.2 373.22,76.16 370.43,74.91 368.21,72.5 370.13,70.13 373.17,68.14 377.12,68.87 380.34,69.78" fill="#5A3208" opacity="0.55"/>
<polygon points="378.5,72.14 378.7,73.2 378.05,74.38 375.5,74.09 373.53,74.48 371.25,73.98 371.48,73.18 370.07,71.58 371.84,70.91 373.39,70.59 375.19,70.32 376.77,70.81 377.33,71.49" fill="#2E0C03"/>
<polygon points="378.5,72.58 379.5,73.22 377.94,73.88 375.87,73.93 375.31,73.48 373.02,73.31 371.68,72.6 372.69,71.6 373,71.32 374.97,71.09 375.63,70.73 377.93,70.47 379.75,71.68" fill="#2E0C03"/>
<polygon points="394.49,77.35 393.48,79.65 390.71,80.77 386.95,80.79 383.98,79.87 383.59,77.35 384.07,75.06 386.9,73.67 390.53,73.58 393.46,74.78" fill="#5A3208" opacity="0.55"/>
<polygon points="392.37,77.57 391.43,78 391.13,79 388.89,80.05 387.52,79.26 385.96,78.52 385,78.12 386.06,76.73 387.15,76.21 387.28,75.67 389.85,75.4 390.42,75.87 392.16,76.33" fill="#2E0C03"/>
<polygon points="392.32,77.53 391.49,78.9 390.77,79.51 388.97,79.27 387.86,79.69 387.22,79.02 386.34,77.9 386.35,77.48 386.49,76.55 387.65,76.42 389.4,75.7 390.77,76.76 392.28,76.68" fill="#2E0C03"/>
<polygon points="403.06,86.65 402.1,88.91 399.84,90.67 396.17,90.24 393.47,89.24 392.57,86.65 393.29,84.06 396.09,82.53 399.7,82.58 403.09,84.52" fill="#5A3208" opacity="0.55"/>
<polygon points="401.81,86.55 401.61,88.12 400.08,88.96 397.91,88.72 396.12,89 396.03,87.6 394.25,87.29 395.36,86.57 395.46,84.91 395.83,84.59 398.53,84.77 399.6,85.44 401.17,85.3" fill="#2E0C03"/>
<polygon points="400.63,86.75 401.73,87.48 400.05,87.99 398.59,87.91 397.71,88.06 396.11,88.4 396.09,87.31 395.1,86.5 396.41,85.42 397.46,85.12 398.16,84.98 400.82,85.35 400.4,86.39" fill="#2E0C03"/>
<polygon points="410.63,89.45 409.38,91.54 407.62,92.78 404.95,93.16 402.86,91.71 402.15,89.45 402.63,87.29 404.78,85.84 407.38,86.15 409.24,87.48" fill="#5A3208" opacity="0.55"/>
<polygon points="407.69,89.2 408.1,90.58 407.89,91.05 406.09,90.74 405.57,91.39 404.6,90.33 404.21,89.85 403.5,89.03 404.39,88.12 405.59,87.23 406.45,88.2 407.67,87.47 407.54,88.85" fill="#2E0C03"/>
<polygon points="408.21,89.64 407.89,90.02 407.52,90.5 406.53,90.6 406.02,91.03 404.73,90.55 405.09,89.77 404.86,89.2 405.44,88.59 405.91,87.99 406.44,87.98 407.01,88.39 407.54,89.11" fill="#2E0C03"/>
<polygon points="402.74,95.75 402.32,97.58 400.23,98.4 397.9,98.37 396.33,97.29 395.71,95.75 396.14,94.08 397.86,92.74 400.1,92.99 402.21,94.05" fill="#5A3208" opacity="0.55"/>
<polygon points="400.49,95.9 400.81,96.56 399.89,96.39 399.06,96.96 398.45,97.13 397.32,96.71 397.07,96.05 396.92,95.62 397.9,95.17 398.26,94.64 399.56,94.52 400.42,94.84 400.2,95.31" fill="#2E0C03"/>
<polygon points="400.94,95.89 400.63,96.23 400.33,96.36 399.47,96.37 398.9,96.7 398.76,96.16 398.15,96 398,95.57 398.33,95.21 399.08,94.67 399.71,94.89 400.38,94.87 400.46,95.26" fill="#2E0C03"/>
<polygon points="413.57,105.75 412.86,108.67 410.47,110.45 407.35,110.38 404.92,108.5 404.34,105.75 405.02,103.1 407.23,101.31 410.37,101.08 412.95,103.03" fill="#5A3208" opacity="0.55"/>
<polygon points="411.48,106.12 411.88,107.61 410.27,107.17 409.71,108.38 407.55,108.03 406.86,107.83 405.26,106.17 406.67,105.19 406.8,103.94 407.94,103.98 409.63,103.53 411.04,103.72 411.8,103.64" fill="#2E0C03"/>
<polygon points="411.42,105.38 411.21,106.25 411.19,107.36 410,107.9 409.05,107.96 408.36,106.26 408.01,105.99 407.59,105.09 408.04,104.26 409.18,102.92 409.82,103.64 410.64,103.56 411.19,104.26" fill="#2E0C03"/>
<polygon points="358.7,102.15 357.85,103.84 355.79,104.88 353.71,105.5 351.74,103.99 351.06,102.15 351.97,100.35 353.77,98.97 355.85,99.31 357.51,100.47" fill="#5A3208" opacity="0.55"/>
<polygon points="356.15,102.18 356.23,102.78 355.9,103.17 355.05,103.15 354.45,103.33 353.89,102.73 353.2,102.5 353.67,101.76 353.85,101.25 353.94,100.84 355.22,100.41 355.66,100.81 356.33,101.73" fill="#2E0C03"/>
<polygon points="356.15,101.77 355.87,102.15 355.81,102.79 355.12,102.95 354.45,103.03 354.06,102.43 354.08,102.18 353.8,101.67 354.32,101.27 354.31,100.75 355.25,100.97 355.74,100.95 356.02,101.26" fill="#2E0C03"/>
<polygon points="406.16,131.6 405.47,134.18 403.27,135.32 400.02,135.21 396.83,133.7 396.57,131.6 397.42,128.97 399.91,127.41 403.18,128.26 405.58,129.35" fill="#5A3208" opacity="0.55"/>
<polygon points="405.28,131.32 404.08,132.55 403.6,133.28 401.89,132.99 400.67,133.94 398.76,132.97 398.33,132.17 398.19,131.49 399.35,129.96 400.31,129.48 402.17,129.75 402.94,129.63 405.06,130.54" fill="#2E0C03"/>
<polygon points="402.4,131.87 402.94,132.61 401.82,133.16 400.81,133.59 400.25,132.77 399.12,132.45 398.96,132.15 397.87,130.91 398.55,130.48 399.87,130.59 401.02,130.33 401.82,130.01 402.76,130.57" fill="#2E0C03"/>
<polygon points="421.9,85.1 421.37,87.27 419.65,88.07 417.35,88.45 415.09,87.12 414.42,85.1 415.23,83.18 417.39,81.55 419.53,81.79 421.42,83" fill="#5A3208" opacity="0.55"/>
<polygon points="420.52,84.79 420.18,85.7 419.86,86.58 418.6,86.98 418.01,86.32 417.31,85.87 416.31,85.93 417.21,84.66 417.43,84.36 417.48,83.67 419,83.13 419.61,84.04 420,84.02" fill="#2E0C03"/>
<polygon points="419.56,84.66 419.45,85.44 419.04,85.97 418.49,86.24 418,86.25 417.53,85.25 417.28,85.09 416.81,84.35 417.53,83.81 418.18,83.41 418.73,83.57 419.36,83.71 419.79,84.31" fill="#2E0C03"/>
<polygon points="410.54,80.65 409.98,82.5 408.5,84.19 406.4,83.64 404.99,82.64 404.45,80.65 405.11,78.52 406.53,77.83 408.5,77.68 410.32,78.58" fill="#5A3208" opacity="0.55"/>
<polygon points="408.63,80.45 408.8,81.64 408.06,81.92 407.62,82.15 407.05,82.44 406.4,82.04 406.05,81.24 406.59,80.41 406.59,79.53 406.64,79 407.87,79.14 408.19,79.03 408.83,79.5" fill="#2E0C03"/>
<polygon points="408.84,81.1 408.62,81.36 408.34,81.82 407.76,82.15 407.28,82.15 406.9,82.04 406.84,81.23 406.72,80.51 407.09,80.36 407.42,79.8 407.75,79.8 408.51,79.68 408.55,80.46" fill="#2E0C03"/>
<polygon points="446.51,77.9 445.81,80.24 444.01,81.88 441.33,81.66 438.92,80.67 438.09,77.9 439.16,75.61 441.34,74.18 443.93,73.63 446.1,75.21" fill="#5A3208" opacity="0.55"/>
<polygon points="445.07,77.83 444.81,79.18 443.91,80.33 442.97,80.57 441.67,80.51 440.56,79.79 439.9,79.01 439.63,77.71 441.45,76.65 441.76,76.14 442.78,76.02 443.65,75.85 444.49,77.12" fill="#2E0C03"/>
<polygon points="444.35,76.86 443.31,78.12 442.57,78.45 441.95,78.59 441.71,78.6 440.81,78.18 440.42,77.78 439.93,76.72 441.01,76.35 440.99,75.57 442.21,75.5 442.7,75.94 444.26,76.58" fill="#2E0C03"/>
<polygon points="463.52,82.9 463.17,85.8 460.29,87.51 457.42,86.89 454.52,85.53 453.43,82.9 454.87,79.91 457.38,78.51 460.23,79.04 462.72,80.43" fill="#5A3208" opacity="0.55"/>
<polygon points="462.04,82.72 461.1,84.31 460.85,85.66 459.17,85.35 458,84.52 457.32,84.4 456.98,83.32 455.83,81.89 456.21,80.81 457.93,80.71 458.75,80.51 460.48,80.44 460.8,82.24" fill="#2E0C03"/>
<polygon points="461.01,82.86 460.49,84.12 460.25,84.63 458.79,85.12 457.82,84.52 456.7,84.35 456,83.14 457.05,82.5 457.1,81.45 457.64,80.96 459.28,81.25 460.12,80.97 461.03,81.34" fill="#2E0C03"/>
<polygon points="488.41,78.4 486.62,81.74 482.96,83.69 478.02,83.37 475.04,82.25 473.83,78.4 473.98,74.88 478.33,72.24 482.56,72.81 486.79,74.64" fill="#5A3208" opacity="0.55"/>
<polygon points="484.61,77.94 484.87,80.19 484.6,82.11 480.57,83.06 478.85,82.95 476.06,80.34 473.94,78.72 476.6,77.17 477.49,76.89 479.65,75.62 480.88,75.86 484.51,74.98 484.52,77.42" fill="#2E0C03"/>
<polygon points="482.63,78.85 482.8,80.2 481.85,81.73 480.12,81.16 478.67,82.49 476.97,81.34 474.5,79.46 474.55,77.68 476.89,76.29 478.52,76.8 479.73,76.68 481.75,76.62 484.31,77.69" fill="#2E0C03"/>
<polygon points="476.4,85.25 475.81,87.28 474.37,88.13 472.53,88.48 471.02,86.94 470.48,85.25 471.09,83.24 472.38,82.15 474.26,82.28 475.79,83.44" fill="#5A3208" opacity="0.55"/>
<polygon points="474.54,85.22 474.14,85.7 473.82,86.28 473.64,86.83 472.73,86.53 472.64,85.79 471.99,85.93 472.39,84.87 472.51,84 473.11,84.02 473.55,84.3 474.17,83.77 474.21,84.96" fill="#2E0C03"/>
<polygon points="474.12,85.24 474.08,85.89 473.81,85.85 473.38,85.92 472.93,86.17 472.21,85.74 472.35,85.38 472.4,84.89 472.58,84.35 472.88,84.23 473.21,83.68 473.69,83.79 474.12,84.63" fill="#2E0C03"/>
<polygon points="475.62,93.15 473.91,95.44 471.45,97.37 467.44,97.69 464.9,95.43 462.9,93.15 464.63,90.84 467.43,89.49 471.37,88.56 474.06,90.7" fill="#5A3208" opacity="0.55"/>
<polygon points="473.87,92.86 473.08,94.13 471.61,95.34 470.15,95.14 467.95,95.98 466.76,95.12 464.66,93.54 466.62,92.98 466.21,91.26 468.15,90.65 469.85,90.29 471.67,91.07 472.54,91.59" fill="#2E0C03"/>
<polygon points="471.02,93 471.54,94.12 470.75,94.2 469.25,94.03 467.74,93.89 465.67,94.15 465.04,93.53 466.62,92.34 466.56,91.79 467.3,91.14 468.51,90.71 470.37,91.4 471.13,91.52" fill="#2E0C03"/>
<polygon points="446.74,95.95 446.28,98.2 443.8,99.61 441.13,99.51 439.28,97.96 438.41,95.95 439.07,93.6 441.39,92.42 443.97,92.42 446.23,93.6" fill="#5A3208" opacity="0.55"/>
<polygon points="444.77,95.97 445.2,96.58 443.53,96.89 442.79,97.68 441.91,97.76 440.6,97.48 440.56,96.51 440.54,95.56 440.82,94.69 442.11,94.44 443.09,94.42 443.48,94.94 444.87,94.99" fill="#2E0C03"/>
<polygon points="444.91,96.2 444.6,96.58 443.85,97.01 443.52,97.54 442.53,97.57 441.22,97 441.48,96.13 441.22,95.56 441.56,94.86 442.33,94.67 443.06,94.78 443.72,94.78 445.05,95.34" fill="#2E0C03"/>
<polygon points="471.35,101.05 469.62,104.13 467.56,105.86 463.89,105.15 460.93,103.98 460.42,101.05 461.81,97.88 464.22,96.08 467.2,95.89 470.57,98.19" fill="#5A3208" opacity="0.55"/>
<polygon points="469.32,100.69 468.89,102.45 468.05,103.91 466.14,103.33 464.01,103.81 463.96,102.33 463.2,101.82 461.94,99.59 463.23,99.59 464.61,99.15 466.42,98.86 467.76,99 469.18,99.49" fill="#2E0C03"/>
<polygon points="468.77,100.37 467.52,101.17 466.84,101.8 465.62,102.27 464.89,102.32 463.99,101.85 463.27,100.65 463.3,99.68 463.6,98.69 464.41,99 465.4,97.78 467.34,98.35 468.19,99.07" fill="#2E0C03"/>
<polygon points="425.55,108.9 425.38,111.27 423.58,112.34 421.53,112.9 420.06,110.87 419.56,108.9 420.05,106.72 421.67,105.51 423.64,105.34 425.08,106.94" fill="#5A3208" opacity="0.55"/>
<polygon points="424.18,108.71 423.52,109.63 423.35,110.23 422.76,111.28 422.31,110.15 421.26,110.4 421.7,109.41 420.91,108.44 421.73,107.72 422.34,107.21 422.52,107.24 423.02,107.7 423.74,107.98" fill="#2E0C03"/>
<polygon points="423.83,109.38 423.89,109.9 423.34,110.67 422.85,110.84 422.24,111.11 421.5,110.68 421.61,109.51 421.25,109.12 421.8,108.63 421.83,107.85 422.72,108.16 423.2,108.54 423.4,108.64" fill="#2E0C03"/>
<polygon points="457.09,109.65 456.47,111.92 454.68,112.98 452.34,112.65 450.49,111.88 450.18,109.65 450.42,107.64 452.31,106.18 454.89,106.01 456.5,107.75" fill="#5A3208" opacity="0.55"/>
<polygon points="455.72,109.34 455.48,110.28 454.62,110.53 454,110.88 452.97,111.15 452.03,111.19 452.19,109.79 451.98,109.22 452.57,108.7 452.97,108.49 453.86,108.13 454.79,107.98 454.9,109.26" fill="#2E0C03"/>
<polygon points="454.31,109.66 454.64,110.49 454.25,110.93 453.64,111.26 452.57,110.98 451.94,110.54 452.01,110.04 451.66,109.35 452.33,108.88 452.75,108.76 453.39,108.27 453.74,108.83 454.4,109.33" fill="#2E0C03"/>
<polygon points="473.01,118.65 472.43,122.27 468.83,124.54 464.94,123.81 461.11,121.88 460.55,118.65 461.67,115.48 464.96,113.28 468.61,112.61 472.51,115.32" fill="#5A3208" opacity="0.55"/>
<polygon points="469.57,119.06 469.75,119.39 468.98,120.82 466.7,121.48 464.86,122.05 464.43,120.07 462.67,118.9 461.92,118.34 464.11,116.43 465.68,115.43 467.28,115.32 470.05,115.52 471.23,116.41" fill="#2E0C03"/>
<polygon points="470.69,119.25 470.93,120.65 469.08,121.36 468.57,121.74 466.67,121.41 465.22,120.94 463.67,119.81 464.59,118.18 465.7,117.21 466.38,116.07 467.85,115.91 470.15,116.79 469.71,118.01" fill="#2E0C03"/>
<polygon points="457.68,123.6 456.49,125.85 453.74,127.31 450.95,128.19 448.32,126.37 447.39,123.6 448.71,121.26 450.69,119.45 453.84,119.92 456.82,121.04" fill="#5A3208" opacity="0.55"/>
<polygon points="454.62,123.83 454.78,124.39 453.68,125.12 452.77,125.25 451.44,125.01 450.92,124.94 450.08,123.78 449.32,123.14 450.38,122.02 451.55,122.01 452.13,120.64 454.29,121.45 454.92,122.15" fill="#2E0C03"/>
<polygon points="455.8,124.07 454.65,124.17 453.86,124.8 453.02,125.2 452.41,125.08 451.56,124.89 450.36,124.19 449.94,123.51 451.01,122.11 452.13,122.39 452.77,122.04 454.68,121.77 455.17,122.41" fill="#2E0C03"/>
<polygon points="440.44,118.65 439.26,120.5 437.72,121.75 435.38,121.87 433.49,120.4 433.22,118.65 433.78,116.74 435.56,115.48 437.72,116.04 439.63,116.81" fill="#5A3208" opacity="0.55"/>
<polygon points="438.02,118.68 437.6,119.05 437.72,119.73 436.64,120.15 436,119.8 435.11,119.71 434.81,118.83 434.77,118.45 435.53,117.76 435.8,117.73 436.61,117.83 437.18,117.72 438.49,118.04" fill="#2E0C03"/>
<polygon points="438.33,118.84 438.27,119.05 437.96,119.63 437.16,119.32 436.7,119.68 436.01,119.27 435.5,118.8 435.92,118.41 435.94,117.91 436.52,118.1 437.13,117.65 437.52,117.96 438.12,118.13" fill="#2E0C03"/>
<polygon points="438.87,114.35 437.73,116.04 435.86,116.92 433.46,117.36 431.58,115.93 431.28,114.35 431.96,112.68 433.5,111.17 435.75,111.72 437.72,112.47" fill="#5A3208" opacity="0.55"/>
<polygon points="437.07,114.11 436.34,114.88 435.73,115.07 434.85,115.3 434.4,115.16 433.45,115.3 433.18,114.64 433.37,114.19 432.98,113.53 433.95,113.02 434.7,112.82 435.72,113.7 436.64,113.58" fill="#2E0C03"/>
<polygon points="435.48,114.45 436.03,114.93 435.39,115.39 434.39,115.32 434.05,115.49 432.97,114.97 432.74,114.53 433.17,114.23 433.12,113.84 433.93,113.26 434.7,113.3 435.02,113.75 435.62,113.96" fill="#2E0C03"/>
<polygon points="437.31,137.8 436.78,139.58 434.99,141.1 432.49,140.58 430.56,139.95 430.27,137.8 430.92,135.87 432.62,134.39 434.84,134.39 436.73,136.07" fill="#5A3208" opacity="0.55"/>
<polygon points="435.32,137.72 435.24,138.21 434.47,138.91 433.54,139.6 433.35,139.33 432.47,138.47 432.29,138.2 432.41,137.43 432.26,136.75 432.62,136.48 434.05,136.49 434.82,136.47 435.24,137.1" fill="#2E0C03"/>
<polygon points="435.7,138.02 435.52,138.33 435,138.7 434.48,139.4 433.61,138.85 433.56,138.64 432.48,138.38 432.64,137.5 433.22,137.04 433.73,137.16 434.47,136.61 434.81,137.27 435.76,137.69" fill="#2E0C03"/>
<polygon points="449.26,138.65 448.55,140.21 445.98,141.8 443.28,141.45 440.81,140.33 439.96,138.65 440.89,136.75 443.43,135.95 445.94,135.45 448.49,136.8" fill="#5A3208" opacity="0.55"/>
<polygon points="447.2,138.54 446.28,139.27 445.77,139.49 445.4,139.83 444.09,140.15 442.81,139.6 442.06,138.91 443.06,138.48 442.69,137.93 444.06,137.68 445.17,137.44 446.49,137.5 447.28,137.92" fill="#2E0C03"/>
<polygon points="446.06,138.34 445.74,138.79 445.66,139.32 444.21,139.61 443.56,139.22 442.67,139.27 442.12,138.63 442.33,138.36 442.49,137.62 443.63,137.85 444.17,137.56 444.95,137.73 445.18,138.16" fill="#2E0C03"/>
<circle cx="401" cy="127.01" r="0.67" fill="#5A2E08" opacity="0.75"/>
<circle cx="457.23" cy="28.51" r="1.12" fill="#5A2E08" opacity="0.75"/>
<circle cx="368.21" cy="63.27" r="0.89" fill="#5A2E08" opacity="0.75"/>
<circle cx="437.66" cy="14.96" r="1.13" fill="#5A2E08" opacity="0.75"/>
<circle cx="446.39" cy="35.63" r="0.63" fill="#5A2E08" opacity="0.75"/>
<circle cx="480.22" cy="66.81" r="0.86" fill="#5A2E08" opacity="0.75"/>
<circle cx="459.08" cy="29.82" r="1.37" fill="#5A2E08" opacity="0.75"/>
<circle cx="452.39" cy="7.8" r="0.6" fill="#5A2E08" opacity="0.75"/>
<circle cx="409.62" cy="17.13" r="0.96" fill="#5A2E08" opacity="0.75"/>
<circle cx="466.47" cy="63.06" r="1.05" fill="#5A2E08" opacity="0.75"/>
<circle cx="353.06" cy="56.68" r="1.29" fill="#5A2E08" opacity="0.75"/>
<circle cx="442.11" cy="15.86" r="0.87" fill="#5A2E08" opacity="0.75"/>
<circle cx="400.34" cy="16.32" r="1.08" fill="#5A2E08" opacity="0.75"/>
<circle cx="469.9" cy="112.25" r="1.35" fill="#5A2E08" opacity="0.75"/>
<circle cx="357.35" cy="100.35" r="1.06" fill="#5A2E08" opacity="0.75"/>
<circle cx="394.23" cy="5.58" r="0.62" fill="#5A2E08" opacity="0.75"/>
<circle cx="381" cy="73.43" r="0.85" fill="#5A2E08" opacity="0.75"/>
<circle cx="367.22" cy="111.31" r="1.14" fill="#5A2E08" opacity="0.75"/>
<circle cx="388.22" cy="2.31" r="1.09" fill="#5A2E08" opacity="0.75"/>
<circle cx="446.38" cy="108.63" r="1.24" fill="#5A2E08" opacity="0.75"/>
<circle cx="407.5" cy="128.98" r="0.72" fill="#5A2E08" opacity="0.75"/>
<circle cx="441.75" cy="24.54" r="1.32" fill="#5A2E08" opacity="0.75"/>
<circle cx="373.58" cy="126.45" r="1.23" fill="#5A2E08" opacity="0.75"/>
<circle cx="370.86" cy="95.76" r="1.22" fill="#5A2E08" opacity="0.75"/>
<circle cx="453.08" cy="82.24" r="0.63" fill="#5A2E08" opacity="0.75"/>
<circle cx="468.93" cy="36.93" r="0.76" fill="#5A2E08" opacity="0.75"/>
<circle cx="450.38" cy="51.29" r="0.69" fill="#5A2E08" opacity="0.75"/>
<circle cx="370.18" cy="127.88" r="0.72" fill="#5A2E08" opacity="0.75"/>
<circle cx="381.49" cy="100.91" r="1.12" fill="#5A2E08" opacity="0.75"/>
<circle cx="362.1" cy="89.54" r="0.99" fill="#5A2E08" opacity="0.75"/>
<circle cx="411.34" cy="89.9" r="0.77" fill="#5A2E08" opacity="0.75"/>
<circle cx="385.38" cy="78.48" r="1" fill="#5A2E08" opacity="0.75"/>
<circle cx="440.76" cy="13.12" r="0.75" fill="#5A2E08" opacity="0.75"/>
<circle cx="463.77" cy="87.49" r="0.98" fill="#5A2E08" opacity="0.75"/>
<circle cx="476.5" cy="65.95" r="0.81" fill="#5A2E08" opacity="0.75"/>
<circle cx="408.63" cy="24.67" r="0.97" fill="#5A2E08" opacity="0.75"/>
<circle cx="458.94" cy="18.37" r="0.87" fill="#5A2E08" opacity="0.75"/>
<circle cx="411.57" cy="39.83" r="0.77" fill="#5A2E08" opacity="0.75"/>
<circle cx="441.06" cy="32.64" r="0.66" fill="#5A2E08" opacity="0.75"/>
<circle cx="482.72" cy="99.75" r="1.32" fill="#5A2E08" opacity="0.75"/>
<circle cx="359.63" cy="42.14" r="1.05" fill="#5A2E08" opacity="0.75"/>
<circle cx="458.81" cy="7.26" r="1.25" fill="#5A2E08" opacity="0.75"/>
<circle cx="429.9" cy="136.52" r="1" fill="#5A2E08" opacity="0.75"/>
<circle cx="355.34" cy="51.33" r="1.21" fill="#5A2E08" opacity="0.75"/>
<circle cx="411.99" cy="74.75" r="1.04" fill="#5A2E08" opacity="0.75"/>
<circle cx="423.8" cy="14.95" r="0.76" fill="#5A2E08" opacity="0.75"/>
<circle cx="470.57" cy="87.82" r="0.9" fill="#5A2E08" opacity="0.75"/>
<circle cx="368.15" cy="115.34" r="0.67" fill="#5A2E08" opacity="0.75"/>
<circle cx="378.03" cy="92.21" r="0.86" fill="#5A2E08" opacity="0.75"/>
<circle cx="390.33" cy="42.3" r="0.83" fill="#5A2E08" opacity="0.75"/>
<circle cx="486.87" cy="113.32" r="1.4" fill="#5A2E08" opacity="0.75"/>
<circle cx="410.8" cy="10.53" r="0.95" fill="#5A2E08" opacity="0.75"/>
<circle cx="406.58" cy="79.91" r="1.09" fill="#5A2E08" opacity="0.75"/>
<circle cx="470.57" cy="65.84" r="0.65" fill="#5A2E08" opacity="0.75"/>
<circle cx="435.68" cy="119.02" r="0.72" fill="#5A2E08" opacity="0.75"/>
<circle cx="426.08" cy="103.34" r="0.73" fill="#5A2E08" opacity="0.75"/>
<circle cx="415.52" cy="66.52" r="0.87" fill="#5A2E08" opacity="0.75"/>
<circle cx="370.52" cy="30.66" r="1.03" fill="#5A2E08" opacity="0.75"/>
<circle cx="373.36" cy="13.38" r="1.39" fill="#5A2E08" opacity="0.75"/>
<circle cx="448.77" cy="30.17" r="1.28" fill="#5A2E08" opacity="0.75"/>
<circle cx="465.07" cy="125.55" r="1.33" fill="#5A2E08" opacity="0.75"/>
<circle cx="423.36" cy="32.68" r="1" fill="#5A2E08" opacity="0.75"/>
<circle cx="406.28" cy="84.76" r="0.87" fill="#5A2E08" opacity="0.75"/>
<circle cx="449.29" cy="83.6" r="0.75" fill="#5A2E08" opacity="0.75"/>
<circle cx="383.45" cy="16.43" r="0.66" fill="#5A2E08" opacity="0.75"/>
<circle cx="437.24" cy="132.24" r="0.68" fill="#5A2E08" opacity="0.75"/>
<circle cx="419.27" cy="82.75" r="0.81" fill="#5A2E08" opacity="0.75"/>
<circle cx="483.38" cy="13.1" r="1.3" fill="#5A2E08" opacity="0.75"/>
<circle cx="446.77" cy="135.23" r="0.94" fill="#5A2E08" opacity="0.75"/>
<circle cx="473.12" cy="23.03" r="0.96" fill="#5A2E08" opacity="0.75"/>
<circle cx="469.81" cy="50.32" r="0.95" fill="#5A2E08" opacity="0.75"/>
<circle cx="430.14" cy="88.52" r="1.28" fill="#5A2E08" opacity="0.75"/>
<circle cx="419.51" cy="58.39" r="0.84" fill="#5A2E08" opacity="0.75"/>
<circle cx="357.43" cy="119.32" r="0.65" fill="#5A2E08" opacity="0.75"/>
<circle cx="431.53" cy="6.99" r="1.17" fill="#5A2E08" opacity="0.75"/>
<circle cx="395.39" cy="34.94" r="0.83" fill="#5A2E08" opacity="0.75"/>
<circle cx="406.37" cy="119.46" r="1.29" fill="#5A2E08" opacity="0.75"/>
<circle cx="381.48" cy="37.61" r="1.26" fill="#5A2E08" opacity="0.75"/>
<circle cx="439.07" cy="12.28" r="0.98" fill="#5A2E08" opacity="0.75"/>
<circle cx="355.25" cy="38.76" r="0.75" fill="#5A2E08" opacity="0.75"/>
<circle cx="383.51" cy="16.11" r="0.92" fill="#5A2E08" opacity="0.75"/>
<circle cx="378.11" cy="128.92" r="1.03" fill="#5A2E08" opacity="0.75"/>
<circle cx="456.28" cy="21.72" r="0.72" fill="#5A2E08" opacity="0.75"/>
<circle cx="413.75" cy="84.58" r="1.1" fill="#5A2E08" opacity="0.75"/>
<circle cx="355.42" cy="11.49" r="0.98" fill="#5A2E08" opacity="0.75"/>
<circle cx="432.27" cy="72.9" r="1.2" fill="#5A2E08" opacity="0.75"/>
<circle cx="409.3" cy="16.5" r="1.23" fill="#5A2E08" opacity="0.75"/>
<circle cx="425.75" cy="14.48" r="1.01" fill="#5A2E08" opacity="0.75"/>
<circle cx="427.6" cy="20.16" r="0.89" fill="#5A2E08" opacity="0.75"/>
<circle cx="475.34" cy="88.92" r="1.25" fill="#5A2E08" opacity="0.75"/>
</g>
<rect x="470" y="133" width="21" height="7" fill="#3A1A06" opacity="0.75" filter="url(#bl)"/>
<line x1="352.7" y1="43.9" x2="491" y2="43.9" stroke="#fff" stroke-width="2.1" stroke-dasharray="2.6 2.0" stroke-dashoffset="4.1"/>
<line x1="461" y1="131.8" x2="488.8" y2="131.8" stroke="#fff" stroke-width="1.3" />
<text x="474.5" y="138.8" font-size="7.3" font-weight="normal" text-anchor="middle" fill="#fff" >200.0 nm</text>
</g>
<text x="357.5" y="18" font-size="19" font-weight="bold" text-anchor="start" fill="#fff" >c</text>
<polyline fill="none" stroke="#111" stroke-width="1.2" stroke-linejoin="round" stroke-linecap="round" points="550.3,31.03 550.48,29.64 550.75,27.85 551.07,27.43 551.46,30.02 551.91,33.98 552.35,36.17 552.74,34.36 553.12,30.78 553.5,28.97 553.9,30.14 554.3,33.07 554.65,37.71 554.93,43.78 555.17,51.57 555.42,61.87 555.71,78.58 556.02,97.81 556.32,108.64 556.58,104.61 556.83,92.18 557.08,79.86 557.34,69.81 557.59,59.87 557.85,52.1 558.16,47.36 558.47,44.79 558.75,43.88 558.92,45.75 559.05,49.27 559.26,50.56 559.63,46.47 560.08,40.15 560.54,37.2 560.94,41.79 561.35,49.74 561.82,54.16 562.4,51.7 563.05,45.71 563.74,39.25 564.52,32.13 565.35,24.56 566.04,20.24 566.51,22.16 566.85,27.34 567.2,30.52 567.6,28.16 568.03,23.8 568.48,22.81 568.98,29.72 569.51,40 570.01,45.42 570.46,40.68 570.88,31.09 571.29,24.35 571.67,24.71 572.04,27.93 572.44,28.97 572.93,24.67 573.45,18.2 573.98,14.07 574.5,13.97 575.02,16.22 575.52,20.24 575.94,28 576.33,37.54 576.8,42.34 577.42,36.87 578.12,26.67 578.72,21.78 579.13,26.99 579.44,37.52 579.74,49.02 580.06,61.18 580.36,74.32 580.64,85 580.87,92.48 581.07,97.51 581.28,98.88 581.49,94.56 581.7,86.58 581.92,79.86 582.12,76.83 582.31,75.06 582.56,72.15 582.85,66.8 583.2,60.31 583.58,54.16 584,49.12 584.46,44.41 584.99,39.25 585.64,31.64 586.37,23.57 587.04,20.24 587.59,26.65 588.08,37.81 588.57,43.88 589.08,38.38 589.6,27.79 590.11,21.78 590.61,26.23 591.1,35.26 591.64,40.8 592.27,38.72 592.94,33.16 593.56,28.46 594.07,26.38 594.54,25.17 595.1,23.83 595.86,21.21 596.72,18.47 597.53,18.18 598.22,23.34 598.86,30.95 599.58,34.63 600.5,29.35 601.49,20.14 602.27,15.61 602.67,19.34 602.86,27.76 603.04,38.74 603.26,53.55 603.47,70.93 603.68,85 603.88,93.22 604.07,98.14 604.32,101.45 604.62,103.28 604.97,103.5 605.34,103.5 605.72,103.62 606.14,103.5 606.62,103.5 607.23,103.88 607.91,104.38 608.54,104.53 609.06,104.27 609.53,103.66 609.95,102.48 610.33,101.14 610.66,99.24 610.97,95.28 611.24,88.66 611.47,79.97 611.74,69.58 612.06,56.1 612.4,40.91 612.76,28.46 613.14,19.74 613.54,13.76 613.92,12.01 614.28,15.67 614.62,23.55 614.94,33.6 615.22,46.55 615.47,61.66 615.71,74.72 615.9,84.16 616.08,91.55 616.35,97.34 616.76,101.39 617.26,103.85 617.76,105.56 618.23,106.82 618.71,107.33 619.16,107.1 619.58,106.7 619.97,105.56 620.32,101.96 620.61,94.65 620.85,84.89 621.08,74.72 621.31,63.95 621.52,52.77 621.72,43.88 621.91,38.8 622.09,36 622.36,33.6 622.77,30.67 623.26,28.14 623.77,26.92 624.31,28.25 624.88,30.9 625.44,32.06 625.94,29.87 626.44,26.19 626.97,23.83 627.6,25 628.27,27.47 628.89,27.43 629.43,21.63 629.93,13.31 630.43,8.41 630.94,10.2 631.44,15.42 631.96,20.24 632.5,23.91 633.05,27.18 633.63,28.46 634.23,25.3 634.87,20.14 635.55,18.69 636.28,25.99 637.05,36.99 637.85,42.34 638.71,35.58 639.61,23.17 640.41,15.1 641.07,16.26 641.64,21.76 642.2,26.92 642.77,30.59 643.33,33.92 643.87,35.66 644.38,35.35 644.87,33.45 645.4,30 646.03,23.02 646.69,14.49 647.32,10.47 647.91,15.55 648.46,25.15 648.99,31.54 649.48,30.36 649.95,25.99 650.4,23.83 650.86,25.87 651.3,30.14 651.68,36.17 651.94,44.41 652.13,54.43 652.32,64.44 652.52,74.49 652.73,84.54 652.96,92.71 653.19,98.27 653.44,101.94 653.72,104.02 654.06,104.91 654.43,104.21 654.75,100.93 654.99,94.37 655.18,85.23 655.39,74.72 655.63,62.23 655.9,48.37 656.16,36.17 656.38,25.72 656.61,16.92 656.92,12.53 657.37,16.09 657.9,24.04 658.46,28.46 659.05,24.86 659.67,17.72 660.25,12.53 660.75,10.89 661.2,11.19 661.66,14.07 662.16,22.18 662.68,32.86 663.2,38.74 663.68,35.28 664.17,27.01 664.73,20.24 665.44,17.21 666.22,15.67 666.91,15.1 667.43,16.24 667.87,18.35 668.32,18.69 668.82,14.91 669.34,9.35 669.85,6.36 670.39,7.65 670.93,11.52 671.39,17.15 671.7,25.05 671.92,34.72 672.16,43.88 672.42,51.82 672.7,59.24 673.05,65.98 673.53,71.46 674.07,76.26 674.59,81.92 675.02,90.16 675.43,99.26 675.87,105.56 676.38,106.84 676.93,105.31 677.4,104.02 677.78,104.06 678.09,104.32 678.3,104.53" />
<rect x="550.3" y="2.5" width="128" height="112.3" fill="none" stroke="#222" stroke-width="1"/>
<line x1="547.3" y1="110.7" x2="550.3" y2="110.7" stroke="#222" stroke-width="1" />
<text x="545" y="114" font-size="9.5" font-weight="bold" text-anchor="end" fill="#000" >−0.5</text>
<line x1="548.3" y1="97.85" x2="550.3" y2="97.85" stroke="#222" stroke-width="1" />
<line x1="547.3" y1="85" x2="550.3" y2="85" stroke="#222" stroke-width="1" />
<text x="545" y="88.3" font-size="9.5" font-weight="bold" text-anchor="end" fill="#000" >0.0</text>
<line x1="548.3" y1="72.15" x2="550.3" y2="72.15" stroke="#222" stroke-width="1" />
<line x1="547.3" y1="59.3" x2="550.3" y2="59.3" stroke="#222" stroke-width="1" />
<text x="545" y="62.6" font-size="9.5" font-weight="bold" text-anchor="end" fill="#000" >0.5</text>
<line x1="548.3" y1="46.45" x2="550.3" y2="46.45" stroke="#222" stroke-width="1" />
<line x1="547.3" y1="33.6" x2="550.3" y2="33.6" stroke="#222" stroke-width="1" />
<text x="545" y="36.9" font-size="9.5" font-weight="bold" text-anchor="end" fill="#000" >1.0</text>
<line x1="548.3" y1="20.75" x2="550.3" y2="20.75" stroke="#222" stroke-width="1" />
<line x1="547.3" y1="7.9" x2="550.3" y2="7.9" stroke="#222" stroke-width="1" />
<text x="545" y="11.2" font-size="9.5" font-weight="bold" text-anchor="end" fill="#000" >1.5</text>
<line x1="550.3" y1="114.8" x2="550.3" y2="117.8" stroke="#222" stroke-width="1" />
<text x="550.3" y="128.9" font-size="9.5" font-weight="bold" text-anchor="middle" fill="#000" >0.0</text>
<line x1="563.1" y1="114.8" x2="563.1" y2="116.8" stroke="#222" stroke-width="1" />
<line x1="575.9" y1="114.8" x2="575.9" y2="117.8" stroke="#222" stroke-width="1" />
<text x="575.9" y="128.9" font-size="9.5" font-weight="bold" text-anchor="middle" fill="#000" >0.2</text>
<line x1="588.7" y1="114.8" x2="588.7" y2="116.8" stroke="#222" stroke-width="1" />
<line x1="601.5" y1="114.8" x2="601.5" y2="117.8" stroke="#222" stroke-width="1" />
<text x="601.5" y="128.9" font-size="9.5" font-weight="bold" text-anchor="middle" fill="#000" >0.4</text>
<line x1="614.3" y1="114.8" x2="614.3" y2="116.8" stroke="#222" stroke-width="1" />
<line x1="627.1" y1="114.8" x2="627.1" y2="117.8" stroke="#222" stroke-width="1" />
<text x="627.1" y="128.9" font-size="9.5" font-weight="bold" text-anchor="middle" fill="#000" >0.6</text>
<line x1="639.9" y1="114.8" x2="639.9" y2="116.8" stroke="#222" stroke-width="1" />
<line x1="652.7" y1="114.8" x2="652.7" y2="117.8" stroke="#222" stroke-width="1" />
<text x="652.7" y="128.9" font-size="9.5" font-weight="bold" text-anchor="middle" fill="#000" >0.8</text>
<line x1="665.5" y1="114.8" x2="665.5" y2="116.8" stroke="#222" stroke-width="1" />
<line x1="678.3" y1="114.8" x2="678.3" y2="117.8" stroke="#222" stroke-width="1" />
<text x="678.3" y="128.9" font-size="9.5" font-weight="bold" text-anchor="middle" fill="#000" >1.0</text>
<text x="614.3" y="143.3" font-size="9.3" font-weight="bold" text-anchor="middle" fill="#000" >Length (μm)</text>
<text transform="translate(516.6,59) rotate(-90)" font-size="9" font-weight="bold" text-anchor="middle" fill="#000">Height (nm)</text>
<text x="508" y="17.3" font-size="19" font-weight="bold" text-anchor="start" fill="#000" >d</text>
<rect x="239.3" y="172.6" width="31.4" height="230.8" fill="#FBF5D0" />
<polyline fill="none" stroke="#000" stroke-width="1.9" stroke-linejoin="round" stroke-linecap="round" points="57,207.5 59.27,207.43 62.55,207.34 66,207.3 69.68,207.29 73.54,207.32 76.6,207.5 78.29,207.81 79.19,208.27 80,209 80.86,209.85 81.63,210.98 82.7,213 84.21,216.37 86.01,220.63 88,225 90.28,229.48 92.75,234.07 95,238 96.85,240.95 98.48,243.24 100,245 101.33,246.21 102.56,246.9 104,247.3 105.7,247.47 107.63,247.36 110,247 112.97,246.46 116.39,245.67 120,244.5 123.9,242.61 127.99,240.33 131.7,238.5 134.8,237.47 137.53,236.88 140,236.5 142.32,236.37 144.38,236.46 146,236.4 146.89,236.19 147.33,235.83 148,235 149.04,233.44 150.3,231.4 152,229.3 154.3,227.27 157.04,225.17 160,223 163.23,220.69 166.68,218.29 170,216 173.16,213.88 176.19,211.86 178.8,209.9 180.9,207.58 182.6,205.31 183.9,204.3 184.71,205.09 185.14,207.14 185.5,210 185.88,214.29 186.19,219.38 186.5,223 186.81,224.42 187.13,224.36 187.5,222.7 187.9,218.56 188.35,212.81 189,208 189.8,205.03 190.81,203 192.3,201.7 194.58,201.37 197.35,201.77 200,202 202.21,201.74 204.31,201.3 206.6,200.7 209.13,199.93 211.87,199.01 215,198 218.99,196.73 223.39,195.36 227,194.5 229.22,194.26 230.67,194.52 232,195.5 233.43,197.43 234.76,200.07 236,203 237.16,205.91 238.25,209.11 239.3,213 240.32,218.42 241.3,224.54 242.3,229.3 243.34,231.4 244.4,232.15 245.4,233.4 246.31,236 247.16,239.11 248,242 248.84,244.94 249.67,247.68 250.5,248.7 251.35,247.06 252.2,243.71 253,240 253.69,236.02 254.33,231.67 255,228 255.75,225.07 256.53,222.82 257.3,222.1 258.07,223.63 258.82,226.7 259.5,230 260.04,233.38 260.5,236.99 261,240 261.56,242.5 262.16,244.39 262.8,244.6 263.52,242.29 264.29,238.3 265,234 265.57,229.37 266.09,224.43 266.7,220.7 267.47,219.36 268.34,219.21 269.3,218.2 270.44,214.87 271.66,210.67 272.7,207.9 273.37,208.11 273.86,209.76 274.4,210.5 275.07,208.92 275.8,206.44 276.6,205 277.56,205.47 278.6,206.97 279.5,208.8 280.16,210.53 280.68,212.59 281.2,215.6 281.79,220.86 282.37,227.07 282.9,231 283.33,230.34 283.7,227.4 284.1,225.8 284.54,227.02 285,229.58 285.5,232.7 286.04,236.67 286.62,241.2 287.2,244.6 287.73,246.21 288.27,246.68 288.9,246.3 289.73,244.59 290.67,242.01 291.5,240.3 292.13,240.7 292.67,241.96 293.2,242 293.74,240.13 294.27,237.04 294.9,232.7 295.7,226 296.6,218.06 297.4,212.2 297.99,210.34 298.5,210.56 299.1,210.5 299.93,209.07 300.87,207.34 301.7,206.2 302.3,206.26 302.8,206.9 303.4,207.1 304.23,206.2 305.17,204.85 306,204 306.57,204.03 307.05,204.57 307.7,205.4 308.8,206.72 310.09,208.34 311,209.5" />
<polyline fill="none" stroke="#000" stroke-width="1.9" stroke-linejoin="round" stroke-linecap="round" points="57,282 60.46,281.91 65.36,281.81 70,281.8 74.01,281.83 77.77,281.95 80.7,282.5 82.25,283.48 82.97,284.88 84,287 85.76,290.3 87.83,294.31 90,298 92.21,301.05 94.54,303.76 97,306 99.7,307.71 102.53,308.95 105.2,309.7 107.53,309.95 109.7,309.71 112,309 114.59,307.62 117.31,305.76 120,304 122.68,302.56 125.32,301.22 127.7,299.9 129.7,298.49 131.43,297.1 133,296 134.43,295.24 135.71,294.77 136.9,294.7 138,295.17 139,296.05 140,297 141.04,298.05 142.08,299.17 143,300 143.7,300.47 144.3,300.64 145,300.3 145.88,299.21 146.87,297.6 148,296 149.18,294.54 150.49,293.09 152.2,291.7 154.45,290.47 157.1,289.31 160,288 163.14,286.49 166.53,284.84 170,283 173.75,280.62 177.59,278.05 180.8,276.3 182.88,276.05 184.34,276.62 186,277 188.19,276.78 190.57,276.37 193,276 195.17,275.77 197.39,275.57 200.4,275.3 204.83,274.93 210.06,274.49 215,274 219.45,273.34 223.61,272.63 227,272.2 229.25,272.23 230.73,272.55 232,273 233.17,273.45 234.13,274.04 235.2,275 236.54,276.22 237.98,277.81 239.3,280.4 240.39,285.12 241.36,290.83 242.3,294.7 243.23,295.14 244.13,293.75 245,292.5 245.78,292.31 246.52,292.27 247.4,291.6 248.51,289.69 249.76,287.14 251,285 252.24,283.47 253.49,282.35 254.6,282 255.44,282.72 256.15,284.21 257,286 258.11,288.13 259.37,290.56 260.7,292.6 262.15,294.26 263.67,295.54 265,295.8 266,294.16 266.8,291.5 267.6,289.8 268.44,290.35 269.26,291.85 270.1,292.4 270.93,290.88 271.77,288.4 272.7,286.4 273.8,285.36 275,284.79 276.1,284.7 277,284.78 277.8,285.33 278.7,287.3 279.81,291.99 281,298.1 282.1,302.6 282.93,303.69 283.67,303.17 284.6,303.5 285.93,306.18 287.47,309.7 288.9,312 290.1,312.02 291.2,310.81 292.3,309.5 293.46,308.59 294.63,307.57 295.7,306 296.6,303.41 297.4,300.27 298.3,297.5 299.44,295.3 300.66,293.47 301.7,292.4 302.33,292.87 302.77,294.1 303.4,294.1 304.44,291.47 305.66,287.61 306.8,284.7 307.76,283.7 308.64,283.66 309.4,283.9 310.07,284.34 310.62,285.07 311,285.6" />
<polyline fill="none" stroke="#000" stroke-width="1.9" stroke-linejoin="round" stroke-linecap="round" points="57,368.3 58.33,368.41 60.22,368.56 62,368.6 63.41,368.39 64.7,368.07 66,367.9 67.37,368.06 68.74,368.36 70,368.5 71.11,368.27 72.11,367.87 73,367.6 73.74,367.52 74.37,367.56 75,367.8 75.67,368.5 76.33,369.41 77,369.8 77.63,369.15 78.26,367.99 79,367.2 79.93,367.19 80.96,367.55 82,367.9 82.93,368.1 83.85,368.3 85,368.5 86.52,368.73 88.26,368.97 90,369.2 91.67,369.44 93.33,369.67 95,369.8 96.67,369.78 98.33,369.66 100,369.5 101.67,369.28 103.33,369.02 105,368.9 106.67,369.05 108.33,369.34 110,369.5 111.67,369.39 113.33,369.15 115,369 116.57,369.06 118.13,369.21 120,369.3 122.49,369.34 125.29,369.32 127.7,369 129.25,368.16 130.42,367.03 132,366 134.24,365.29 136.9,364.69 140,364 143.67,363.07 147.78,362.04 152,361.2 156.04,360.69 160.19,360.36 165,360 171.5,359.23 178.66,358.42 183.9,358.5 185.74,359.46 185.65,361.31 185.5,365 185.88,372.3 186.19,381.43 186.5,388 186.8,390.34 187.09,390.11 187.5,387.9 188.03,383.03 188.66,376.17 189.5,370 190.34,365.24 191.38,361.16 193.3,358.2 196.46,356.87 200.5,356.66 205,356.5 209.9,355.99 215.26,355.52 220.9,355.2 227.38,355.03 234.13,355 239.3,355.2 241.78,355.87 242.67,356.77 243.4,357.2 244.14,356.73 244.71,355.8 246,355 248.65,354.56 252.01,354.25 255,354 257.29,353.61 259.21,353.28 260.7,353.5 261.59,354.52 262.05,356.1 262.5,358 263.07,360.8 263.63,363.92 264.2,365.4 264.79,363.97 265.39,360.9 266,358 266.43,355.73 266.88,353.62 267.9,352.1 269.96,351.52 272.6,351.53 275,351.5 276.77,351.17 278.31,350.8 280,350.6 282.17,350.76 284.49,351.09 286.3,351.2 287.2,350.8 287.58,350.19 288,349.8 288.64,349.96 289.32,350.35 290,350.5 290.65,350.13 291.3,349.51 292,349 292.76,348.79 293.57,348.69 294.4,348.5 295.24,348.06 296.1,347.52 297,347.2 297.97,347.33 298.99,347.68 300,347.8 301,347.41 302,346.8 303,346.4 304.04,346.49 305.07,346.8 306,346.9 306.7,346.54 307.3,345.97 308,345.6 309.04,345.62 310.19,345.83 311,346" />
<rect x="231.5" y="202.85" width="2.2" height="1.1" fill="#111" />
<rect x="231.5" y="212.25" width="2.2" height="1.1" fill="#111" />
<rect x="231.5" y="221.65" width="2.2" height="1.1" fill="#111" />
<rect x="231.5" y="231.05" width="2.2" height="1.1" fill="#111" />
<rect x="231.5" y="240.45" width="2.2" height="1.1" fill="#111" />
<rect x="231.5" y="249.85" width="2.2" height="1.1" fill="#111" />
<rect x="231.5" y="259.25" width="2.2" height="1.1" fill="#111" />
<rect x="231.5" y="268.65" width="2.2" height="1.1" fill="#111" />
<rect x="231.5" y="278.05" width="2.2" height="1.1" fill="#111" />
<rect x="231.5" y="287.45" width="2.2" height="1.1" fill="#111" />
<rect x="231.5" y="296.85" width="2.2" height="1.1" fill="#111" />
<rect x="260.1" y="202.85" width="2.2" height="1.1" fill="#111" />
<rect x="260.1" y="212.25" width="2.2" height="1.1" fill="#111" />
<rect x="260.1" y="221.65" width="2.2" height="1.1" fill="#111" />
<rect x="260.1" y="231.05" width="2.2" height="1.1" fill="#111" />
<rect x="260.1" y="240.45" width="2.2" height="1.1" fill="#111" />
<rect x="260.1" y="249.85" width="2.2" height="1.1" fill="#111" />
<rect x="260.1" y="259.25" width="2.2" height="1.1" fill="#111" />
<rect x="260.1" y="268.65" width="2.2" height="1.1" fill="#111" />
<rect x="260.1" y="278.05" width="2.2" height="1.1" fill="#111" />
<rect x="260.1" y="287.45" width="2.2" height="1.1" fill="#111" />
<rect x="260.1" y="296.85" width="2.2" height="1.1" fill="#111" />
<rect x="241.85" y="202.4" width="1.1" height="2" fill="#111" />
<rect x="251.35" y="202.4" width="1.1" height="2" fill="#111" />
<rect x="238.85" y="301.6" width="1.1" height="2" fill="#111" />
<rect x="248.25" y="301.6" width="1.1" height="2" fill="#111" />
<rect x="257.85" y="301.6" width="1.1" height="2" fill="#111" />
<line x1="246.4" y1="199.7" x2="246.4" y2="217.1" stroke="#000" stroke-width="1.7" /><polygon points="243.7,215.1 249.1,215.1 246.4,222.1" fill="#000"/>
<line x1="252.9" y1="199.7" x2="252.9" y2="217.1" stroke="#000" stroke-width="1.7" /><polygon points="250.2,215.1 255.6,215.1 252.9,222.1" fill="#000"/>
<line x1="243.7" y1="264.2" x2="243.7" y2="276.5" stroke="#000" stroke-width="1.7" /><polygon points="241,274.5 246.4,274.5 243.7,281.5" fill="#000"/>
<line x1="247.9" y1="264.2" x2="247.9" y2="276.5" stroke="#000" stroke-width="1.7" /><polygon points="245.2,274.5 250.6,274.5 247.9,281.5" fill="#000"/>
<text x="240" y="197.1" font-size="10.2" font-weight="normal" text-anchor="start" fill="#000" stroke="#000" stroke-width="0.35">N-H<tspan dx="1" dy="-3" font-size="8">*</tspan></text>
<text x="235.7" y="260.2" font-size="10.2" font-weight="normal" text-anchor="start" fill="#000" stroke="#000" stroke-width="0.35">N-H<tspan dx="1" dy="-3" font-size="8">*</tspan></text>
<rect x="56.6" y="175.2" width="254.4" height="228.3" fill="none" stroke="#000" stroke-width="1.75"/>
<line x1="57" y1="403.5" x2="57" y2="407.5" stroke="#000" stroke-width="1.3" />
<text x="57" y="423.6" font-size="13" font-weight="bold" text-anchor="middle" fill="#000" >4000</text>
<line x1="76.85" y1="403.5" x2="76.85" y2="406" stroke="#000" stroke-width="1.3" />
<line x1="96.7" y1="403.5" x2="96.7" y2="407.5" stroke="#000" stroke-width="1.3" />
<text x="96.7" y="423.6" font-size="13" font-weight="bold" text-anchor="middle" fill="#000" >3500</text>
<line x1="116.55" y1="403.5" x2="116.55" y2="406" stroke="#000" stroke-width="1.3" />
<line x1="136.4" y1="403.5" x2="136.4" y2="407.5" stroke="#000" stroke-width="1.3" />
<text x="136.4" y="423.6" font-size="13" font-weight="bold" text-anchor="middle" fill="#000" >3000</text>
<line x1="156.25" y1="403.5" x2="156.25" y2="406" stroke="#000" stroke-width="1.3" />
<line x1="176.1" y1="403.5" x2="176.1" y2="407.5" stroke="#000" stroke-width="1.3" />
<text x="176.1" y="423.6" font-size="13" font-weight="bold" text-anchor="middle" fill="#000" >2500</text>
<line x1="195.95" y1="403.5" x2="195.95" y2="406" stroke="#000" stroke-width="1.3" />
<line x1="215.8" y1="403.5" x2="215.8" y2="407.5" stroke="#000" stroke-width="1.3" />
<text x="215.8" y="423.6" font-size="13" font-weight="bold" text-anchor="middle" fill="#000" >2000</text>
<line x1="235.65" y1="403.5" x2="235.65" y2="406" stroke="#000" stroke-width="1.3" />
<line x1="255.5" y1="403.5" x2="255.5" y2="407.5" stroke="#000" stroke-width="1.3" />
<text x="255.5" y="423.6" font-size="13" font-weight="bold" text-anchor="middle" fill="#000" >1500</text>
<line x1="275.35" y1="403.5" x2="275.35" y2="406" stroke="#000" stroke-width="1.3" />
<line x1="295.2" y1="403.5" x2="295.2" y2="407.5" stroke="#000" stroke-width="1.3" />
<text x="295.2" y="423.6" font-size="13" font-weight="bold" text-anchor="middle" fill="#000" >1000</text>
<text x="127.2" y="445.6" font-size="13" font-weight="bold" text-anchor="start" fill="#000" >Wavelength (cm<tspan font-size="8.5" dy="-5">−1</tspan><tspan dy="5">)</tspan></text>
<text transform="translate(50,288.9) rotate(-90)" font-size="13" font-weight="bold" text-anchor="middle" fill="#000">Transmittance</text>
<text x="60.8" y="198.4" font-size="13" font-weight="bold" text-anchor="start" fill="#000" >CS + rGO</text>
<text x="61" y="277.4" font-size="13" font-weight="bold" text-anchor="start" fill="#000" >CS</text>
<text x="61" y="361.2" font-size="13" font-weight="bold" text-anchor="start" fill="#000" >rGO</text>
<text x="-1.2" y="178.3" font-size="19" font-weight="bold" text-anchor="start" fill="#000" >e</text>
<rect x="476.1" y="174.6" width="45.9" height="228.6" fill="#FAE3C1" />
<polyline fill="none" stroke="#D9302A" stroke-width="1.8" stroke-linejoin="round" stroke-linecap="round" points="500.3,279.1 500.8,279.1 501.3,279.1 501.8,279.1 502.3,279.09 502.8,279.09 503.3,279.08 503.8,279.08 504.3,279.07 504.8,279.05 505.3,279.04 505.8,279.01 506.3,278.98 506.8,278.94 507.3,278.88 507.8,278.81 508.3,278.7 508.8,278.56 509.3,278.39 509.8,278.19 510.3,277.96 510.8,277.69 511.3,277.37 511.8,277.02 512.3,276.62 512.8,276.17 513.3,275.68 513.8,275.14 514.3,274.57 514.8,273.97 515.3,273.35 515.8,272.72 516.3,272.09 516.8,271.48 517.3,270.9 517.8,270.36 518.3,269.89 518.8,269.48 519.3,269.17 519.8,268.94 520.3,268.82 520.8,268.8 521.3,268.89 521.8,269.1 522.3,269.43 522.8,269.86 523.3,270.37 523.8,270.94 524.3,271.55 524.8,272.18 525.3,272.82 525.8,273.45 526.3,274.06 526.8,274.63 527.3,275.17 527.8,275.65 528.3,276.08 528.8,276.47 529.3,276.8 529.8,277.08 530.3,277.31 530.8,277.51 531.3,277.67 531.8,277.79 532.3,277.89 532.8,277.97 533.3,278.03 533.8,278.08 534.3,278.11 534.8,278.14 535.3,278.16 535.8,278.17 536.3,278.18 536.8,278.19 537.3,278.19 537.8,278.19 538.3,278.2 538.8,278.2 539.3,278.2 539.8,278.2 540.3,278.2 540.8,278.2 541.3,278.2 541.8,278.2 542.3,278.2 542.8,278.2 543.3,278.2 543.8,278.2 544.3,278.2 544.8,278.2 545.3,278.2 545.8,278.2 546.3,278.2 546.8,278.2 547.3,278.2 547.8,278.2 548.3,278.2 548.8,278.2 549.3,278.2 549.8,278.2 550.3,278.2 550.8,278.2 551.3,278.2 551.8,278.2 552.3,278.2 552.8,278.2 553.3,278.2 553.8,278.2 554.3,278.2 554.8,278.2 555.3,278.2 555.8,278.2 556.3,278.2 556.8,278.2 557.3,278.2 557.8,278.2 558.3,278.2 558.8,278.2 559.3,278.2 559.8,278.2 560.3,278.2 560.8,278.2 561.3,278.2 561.8,278.2 562.3,278.2 562.8,278.2 563.3,278.2 563.8,278.2 564.3,278.2 564.8,278.2 565.3,278.2 565.8,278.2 566.3,278.2 566.8,278.2 567.3,278.2 567.8,278.2 568.3,278.2 568.8,278.2 569.3,278.2 569.8,278.2 570.3,278.2 570.8,278.2 571.3,278.2 571.8,278.2 572.3,278.2 572.8,278.2 573.3,278.2 573.8,278.2 574.3,278.2 574.8,278.2 575.3,278.2 575.8,278.2 576.3,278.2 576.8,278.2 577.3,278.2 577.8,278.2 578.3,278.2 578.8,278.2 579.3,278.2 579.8,278.2 580.3,278.2 580.8,278.2 581.3,278.2 581.8,278.2 582.3,278.2 582.8,278.2 583.3,278.2 583.8,278.2 584.3,278.2 584.8,278.2 585.3,278.2 585.8,278.2 586.3,278.2 586.8,278.2 587.3,278.2 587.8,278.2 588.3,278.2 588.8,278.2 589.3,278.2 589.8,278.2 590.3,278.2 590.8,278.2 591.3,278.2 591.8,278.2 592.3,278.2 592.8,278.2 593.3,278.2 593.8,278.2 594.3,278.2 594.8,278.2 595.3,278.2 595.8,278.2 596.3,278.2 596.8,278.2 597.3,278.2 597.8,278.2 598.3,278.2 598.8,278.2 599.3,278.2 599.8,278.2 600.3,278.2 600.8,278.2 601.3,278.2 601.8,278.2 602.3,278.2 602.8,278.2 603.3,278.2 603.8,278.2 604.3,278.2 604.8,278.2 605.3,278.2 605.8,278.2 606.3,278.2 606.8,278.2 607.3,278.2 607.8,278.2 608.3,278.2 608.8,278.2 609.3,278.2 609.8,278.2 610.3,278.2 610.8,278.2 611.3,278.2 611.8,278.2 612.3,278.2 612.8,278.2 613.3,278.2 613.8,278.2 614.3,278.2 614.8,278.2 615.3,278.2 615.8,278.2 616.3,278.2 616.8,278.2 617.3,278.2 617.8,278.2 618.3,278.2 618.8,278.2 619.3,278.2 619.8,278.2 620.3,278.2 620.8,278.2 621.3,278.2 621.8,278.2 622.3,278.2 622.8,278.2 623.3,278.2 623.8,278.2 624.3,278.2 624.8,278.2 625.3,278.2 625.8,278.2 626.3,278.2 626.8,278.2 627.3,278.2 627.8,278.2 628.3,278.2 628.8,278.2 629.3,278.2 629.8,278.2" />
<polyline fill="none" stroke="#3060B8" stroke-width="1.8" stroke-linejoin="round" stroke-linecap="round" points="505.3,278.98 505.8,278.97 506.3,278.95 506.8,278.94 507.3,278.92 507.8,278.9 508.3,278.85 508.8,278.8 509.3,278.73 509.8,278.67 510.3,278.61 510.8,278.54 511.3,278.46 511.8,278.38 512.3,278.3 512.8,278.22 513.3,278.13 513.8,278.03 514.3,277.93 514.8,277.82 515.3,277.7 515.8,277.58 516.3,277.45 516.8,277.31 517.3,277.16 517.8,277 518.3,276.84 518.8,276.66 519.3,276.47 519.8,276.26 520.3,276.05 520.8,275.82 521.3,275.57 521.8,275.31 522.3,275.06 522.8,274.8 523.3,274.52 523.8,274.22 524.3,273.9 524.8,273.56 525.3,273.2 525.8,272.81 526.3,272.4 526.8,271.97 527.3,271.5 527.8,271.02 528.3,270.5 528.8,269.95 529.3,269.38 529.8,268.77 530.3,268.13 530.8,267.46" />
<polyline fill="none" stroke="#000" stroke-width="1.9" stroke-linejoin="round" stroke-linecap="round" points="400.3,279.1 400.8,279.1 401.3,279.1 401.8,279.1 402.3,279.1 402.8,279.1 403.3,279.1 403.8,279.1 404.3,279.1 404.8,279.1 405.3,279.1 405.8,279.1 406.3,279.1 406.8,279.1 407.3,279.1 407.8,279.1 408.3,279.1 408.8,279.1 409.3,279.1 409.8,279.1 410.3,279.1 410.8,279.1 411.3,279.1 411.8,279.1 412.3,279.1 412.8,279.1 413.3,279.1 413.8,279.1 414.3,279.1 414.8,279.1 415.3,279.1 415.8,279.1 416.3,279.1 416.8,279.1 417.3,279.1 417.8,279.1 418.3,279.1 418.8,279.1 419.3,279.1 419.8,279.1 420.3,279.1 420.8,279.1 421.3,279.1 421.8,279.1 422.3,279.1 422.8,279.1 423.3,279.1 423.8,279.1 424.3,279.1 424.8,279.1 425.3,279.1 425.8,279.1 426.3,279.1 426.8,279.1 427.3,279.1 427.8,279.1 428.3,279.1 428.8,279.1 429.3,279.1 429.8,279.1 430.3,279.1 430.8,279.1 431.3,279.1 431.8,279.1 432.3,279.1 432.8,279.1 433.3,279.1 433.8,279.1 434.3,279.1 434.8,279.1 435.3,279.1 435.8,279.1 436.3,279.1 436.8,279.1 437.3,279.1 437.8,279.1 438.3,279.1 438.8,279.1 439.3,279.1 439.8,279.1 440.3,279.1 440.8,279.1 441.3,279.1 441.8,279.1 442.3,279.1 442.8,279.1 443.3,279.1 443.8,279.1 444.3,279.1 444.8,279.1 445.3,279.1 445.8,279.1 446.3,279.1 446.8,279.1 447.3,279.1 447.8,279.1 448.3,279.1 448.8,279.1 449.3,279.1 449.8,279.1 450.3,279.1 450.8,279.1 451.3,279.1 451.8,279.1 452.3,279.1 452.8,279.1 453.3,279.1 453.8,279.1 454.3,279.1 454.8,279.1 455.3,279.1 455.8,279.1 456.3,279.1 456.8,279.1 457.3,279.1 457.8,279.1 458.3,279.1 458.8,279.1 459.3,279.1 459.8,279.1 460.3,279.1 460.8,279.1 461.3,279.1 461.8,279.1 462.3,279.1 462.8,279.1 463.3,279.1 463.8,279.1 464.3,279.1 464.8,279.1 465.3,279.1 465.8,279.1 466.3,279.1 466.8,279.1 467.3,279.1 467.8,279.1 468.3,279.1 468.8,279.1 469.3,279.1 469.8,279.1 470.3,279.1 470.8,279.1 471.3,279.1 471.8,279.1 472.3,279.1 472.8,279.1 473.3,279.1 473.8,279.1 474.3,279.1 474.8,279.1 475.3,279.1 475.8,279.1 476.3,279.1 476.8,279.1 477.3,279.1 477.8,279.1 478.3,279.1 478.8,279.1 479.3,279.1 479.8,279.1 480.3,279.1 480.8,279.1 481.3,279.1 481.8,279.1 482.3,279.1 482.8,279.1 483.3,279.1 483.8,279.1 484.3,279.1 484.8,279.1 485.3,279.1 485.8,279.1 486.3,279.1 486.8,279.1 487.3,279.1 487.8,279.1 488.3,279.1 488.8,279.1 489.3,279.1 489.8,279.1 490.3,279.1 490.8,279.1 491.3,279.1 491.8,279.1 492.3,279.1 492.8,279.09 493.3,279.09 493.8,279.09 494.3,279.09 494.8,279.09 495.3,279.09 495.8,279.09 496.3,279.09 496.8,279.08 497.3,279.08 497.8,279.08 498.3,279.08 498.8,279.07 499.3,279.07 499.8,279.07 500.3,279.06 500.8,279.06 501.3,279.05 501.8,279.04 502.3,279.03 502.8,279.02 503.3,279.01 503.8,278.99 504.3,278.97 504.8,278.95 505.3,278.92 505.8,278.88 506.3,278.83 506.8,278.77 507.3,278.7 507.8,278.61 508.3,278.5 508.8,278.36 509.3,278.19 509.8,278 510.3,277.76 510.8,277.48 511.3,277.16 511.8,276.79 512.3,276.37 512.8,275.9 513.3,275.38 513.8,274.82 514.3,274.21 514.8,273.56 515.3,272.89 515.8,272.2 516.3,271.5 516.8,270.82 517.3,270.15 517.8,269.52 518.3,268.94 518.8,268.43 519.3,267.99 519.8,267.62 520.3,267.35 520.8,267.16 521.3,267.08 521.8,267.09 522.3,267.19 522.8,267.36 523.3,267.59 523.8,267.86 524.3,268.15 524.8,268.44 525.3,268.72 525.8,268.96 526.3,269.16 526.8,269.3 527.3,269.37 527.8,269.37 528.3,269.28 528.8,269.12 529.3,268.87 529.8,268.55 530.3,268.14 530.8,267.67 531.3,267.12 531.8,266.5 532.3,265.83 532.8,265.09 533.3,264.3 533.8,263.46 534.3,262.56 534.8,261.62 535.3,260.64 535.8,259.6 536.3,258.53 536.8,257.41 537.3,256.25 537.8,255.05 538.3,253.81 538.8,252.53 539.3,251.21 539.8,249.86 540.3,248.46 540.8,247.03 541.3,245.57 541.8,244.07 542.3,242.54 542.8,240.98 543.3,239.39 543.8,237.77 544.3,236.13 544.8,234.46 545.3,232.78 545.8,231.07 546.3,229.36 546.8,227.63 547.3,225.89 547.8,224.14 548.3,222.39 548.8,220.64 549.3,218.89 549.8,217.15 550.3,215.42 550.8,213.71 551.3,212.01 551.8,210.34 552.3,208.69 552.8,207.06 553.3,205.48 553.8,203.92 554.3,202.41 554.8,200.94 555.3,199.52 555.8,198.16 556.3,196.84 556.8,195.59 557.3,194.39 557.8,193.26 558.3,192.2 558.8,191.21 559.3,190.29 559.8,189.45 560.3,188.69 560.8,188.01 561.3,187.41 561.8,186.89 562.3,186.46 562.8,186.11 563.3,185.86 563.8,185.69 564.3,185.61 564.8,185.61 565.3,185.69 565.8,185.85 566.3,186.08 566.8,186.38 567.3,186.75 567.8,187.19 568.3,187.71 568.8,188.29 569.3,188.94 569.8,189.65 570.3,190.43 570.8,191.28 571.3,192.18 571.8,193.14 572.3,194.16 572.8,195.23 573.3,196.36 573.8,197.53 574.3,198.75 574.8,200.01 575.3,201.32 575.8,202.66 576.3,204.04 576.8,205.46 577.3,206.9 577.8,208.37 578.3,209.87 578.8,211.39 579.3,212.93 579.8,214.48 580.3,216.04 580.8,217.62 581.3,219.21 581.8,220.8 582.3,222.39 582.8,223.98 583.3,225.57 583.8,227.16 584.3,228.74 584.8,230.3 585.3,231.86 585.8,233.4 586.3,234.93 586.8,236.44 587.3,237.93 587.8,239.4 588.3,240.85 588.8,242.28 589.3,243.68 589.8,245.05 590.3,246.4 590.8,247.71 591.3,249 591.8,250.26 592.3,251.49 592.8,252.68 593.3,253.84 593.8,254.98 594.3,256.08 594.8,257.14 595.3,258.18 595.8,259.18 596.3,260.14 596.8,261.08 597.3,261.98 597.8,262.85 598.3,263.69 598.8,264.5 599.3,265.27 599.8,266.01 600.3,266.73 600.8,267.41 601.3,268.07 601.8,268.69 602.3,269.29 602.8,269.86 603.3,270.41 603.8,270.93 604.3,271.42 604.8,271.89 605.3,272.34 605.8,272.76 606.3,273.17 606.8,273.55 607.3,273.91 607.8,274.25 608.3,274.57 608.8,274.88 609.3,275.16 609.8,275.43 610.3,275.69 610.8,275.93 611.3,276.15 611.8,276.36 612.3,276.56 612.8,276.75 613.3,276.92 613.8,277.08 614.3,277.23 614.8,277.37 615.3,277.51 615.8,277.63 616.3,277.75 616.8,277.85 617.3,277.95 617.8,278.04 618.3,278.13 618.8,278.21 619.3,278.28 619.8,278.35 620.3,278.41 620.8,278.47 621.3,278.52 621.8,278.57 622.3,278.62 622.8,278.66 623.3,278.7 623.8,278.74 624.3,278.77 624.8,278.8 625.3,278.83 625.8,278.85 626.3,278.87 626.8,278.9 627.3,278.91 627.8,278.93 628.3,278.95 628.8,278.96 629.3,278.98 629.8,278.99 630.3,279 630.8,279.01 631.3,279.02 631.8,279.03 632.3,279.03 632.8,279.04 633.3,279.05 633.8,279.05 634.3,279.06 634.8,279.06 635.3,279.07 635.8,279.07 636.3,279.07 636.8,279.08 637.3,279.08 637.8,279.08 638.3,279.08 638.8,279.08 639.3,279.09 639.8,279.09 640.3,279.09 640.8,279.09 641.3,279.09 641.8,279.09 642.3,279.09 642.8,279.09 643.3,279.09 643.8,279.1 644.3,279.1 644.8,279.1 645.3,279.1 645.8,279.1 646.3,279.1 646.8,279.1 647.3,279.1 647.8,279.1 648.3,279.1 648.8,279.1 649.3,279.1 649.8,279.1 650.3,279.1 650.8,279.1 651.3,279.1 651.8,279.1 652.3,279.1 652.8,279.1 653.3,279.1 653.8,279.1 654.3,279.1 654.8,279.1 655.3,279.1 655.8,279.1" />
<polyline fill="none" stroke="#D9302A" stroke-width="1.8" stroke-linejoin="round" stroke-linecap="round" points="470.3,392.76 470.8,392.7 471.3,392.63 471.8,392.56 472.3,392.48 472.8,392.41 473.3,392.33 473.8,392.25 474.3,392.17 474.8,392.09 475.3,392.01 475.8,391.92 476.3,391.83 476.8,391.74 477.3,391.65 477.8,391.56 478.3,391.47 478.8,391.37 479.3,391.27 479.8,391.17 480.3,391.07 480.8,390.97 481.3,390.86 481.8,390.76 482.3,390.65 482.8,390.54 483.3,390.43 483.8,390.31 484.3,390.2 484.8,390.09 485.3,389.97 485.8,389.85 486.3,389.73 486.8,389.61 487.3,389.49 487.8,389.37 488.3,389.25 488.8,389.12 489.3,389 489.8,388.87 490.3,388.75 490.8,388.62 491.3,388.49 491.8,388.36 492.3,388.24 492.8,388.11 493.3,387.98 493.8,387.85 494.3,387.72 494.8,387.59 495.3,387.47 495.8,387.34 496.3,387.21 496.8,387.09 497.3,386.96 497.8,386.84 498.3,386.71 498.8,386.59 499.3,386.47 499.8,386.34 500.3,386.23 500.8,386.11 501.3,385.99 501.8,385.88 502.3,385.76 502.8,385.65 503.3,385.54 503.8,385.43 504.3,385.33 504.8,385.22 505.3,385.12 505.8,385.03 506.3,384.93 506.8,384.84 507.3,384.75 507.8,384.66 508.3,384.57 508.8,384.49 509.3,384.41 509.8,384.34 510.3,384.27 510.8,384.2 511.3,384.13 511.8,384.07 512.3,384.01 512.8,383.96 513.3,383.91 513.8,383.86 514.3,383.82 514.8,383.78 515.3,383.74 515.8,383.71 516.3,383.68 516.8,383.66 517.3,383.64 517.8,383.62 518.3,383.61 518.8,383.6 519.3,383.6 519.8,383.6 520.3,383.61 520.8,383.62 521.3,383.64 521.8,383.66 522.3,383.69 522.8,383.73 523.3,383.77 523.8,383.82 524.3,383.87 524.8,383.93 525.3,383.99 525.8,384.06 526.3,384.14 526.8,384.22 527.3,384.3 527.8,384.39 528.3,384.48 528.8,384.58 529.3,384.69 529.8,384.79 530.3,384.9 530.8,385.02 531.3,385.14 531.8,385.26 532.3,385.39 532.8,385.52 533.3,385.65 533.8,385.78 534.3,385.92 534.8,386.06 535.3,386.2 535.8,386.35 536.3,386.49 536.8,386.64 537.3,386.79 537.8,386.94 538.3,387.09 538.8,387.25 539.3,387.4 539.8,387.56 540.3,387.71 540.8,387.87 541.3,388.02 541.8,388.18 542.3,388.33 542.8,388.49 543.3,388.64 543.8,388.79 544.3,388.94 544.8,389.1 545.3,389.25 545.8,389.39 546.3,389.54 546.8,389.69 547.3,389.83 547.8,389.97 548.3,390.12 548.8,390.25 549.3,390.39 549.8,390.53 550.3,390.66 550.8,390.79 551.3,390.92 551.8,391.04 552.3,391.16 552.8,391.29 553.3,391.4 553.8,391.52 554.3,391.63 554.8,391.74 555.3,391.85 555.8,391.96 556.3,392.06 556.8,392.16 557.3,392.25 557.8,392.35 558.3,392.44 558.8,392.53 559.3,392.62 559.8,392.7 560.3,392.78 560.8,392.86 561.3,392.94 561.8,393.01 562.3,393.08 562.8,393.15 563.3,393.22 563.8,393.28 564.3,393.35 564.8,393.4 565.3,393.46 565.8,393.52 566.3,393.57 566.8,393.62 567.3,393.67 567.8,393.72 568.3,393.76 568.8,393.81 569.3,393.85 569.8,393.89 570.3,393.93 570.8,393.96 571.3,394 571.8,394.03 572.3,394.06 572.8,394.09 573.3,394.12 573.8,394.15 574.3,394.17 574.8,394.2 575.3,394.22 575.8,394.24 576.3,394.26 576.8,394.28 577.3,394.3 577.8,394.32 578.3,394.34 578.8,394.35 579.3,394.37 579.8,394.38 580.3,394.4 580.8,394.41 581.3,394.42 581.8,394.43 582.3,394.45 582.8,394.46 583.3,394.47 583.8,394.47 584.3,394.48 584.8,394.49 585.3,394.5 585.8,394.51 586.3,394.51 586.8,394.52 587.3,394.52 587.8,394.53 588.3,394.53 588.8,394.54 589.3,394.54 589.8,394.55 590.3,394.55 590.8,394.55 591.3,394.56 591.8,394.56 592.3,394.56 592.8,394.57 593.3,394.57 593.8,394.57 594.3,394.57 594.8,394.58 595.3,394.58 595.8,394.58 596.3,394.58 596.8,394.58 597.3,394.58 597.8,394.59 598.3,394.59 598.8,394.59 599.3,394.59 599.8,394.59 600.3,394.59 600.8,394.59 601.3,394.59 601.8,394.59 602.3,394.59 602.8,394.59 603.3,394.59 603.8,394.59 604.3,394.6 604.8,394.6 605.3,394.6 605.8,394.6 606.3,394.6 606.8,394.6 607.3,394.6 607.8,394.6 608.3,394.6 608.8,394.6 609.3,394.6 609.8,394.6 610.3,394.6 610.8,394.6 611.3,394.6 611.8,394.6 612.3,394.6 612.8,394.6 613.3,394.6 613.8,394.6 614.3,394.6 614.8,394.6 615.3,394.6 615.8,394.6 616.3,394.6 616.8,394.6 617.3,394.6 617.8,394.6 618.3,394.6 618.8,394.6 619.3,394.6 619.8,394.6" />
<polyline fill="none" stroke="#3060B8" stroke-width="1.8" stroke-linejoin="round" stroke-linecap="round" points="455.3,394.6 455.8,394.6 456.3,394.6 456.8,394.6 457.3,394.6 457.8,394.6 458.3,394.6 458.8,394.6 459.3,394.6 459.8,394.6 460.3,394.6 460.8,394.6 461.3,394.6 461.8,394.6 462.3,394.6 462.8,394.6 463.3,394.6 463.8,394.6 464.3,394.6 464.8,394.6 465.3,394.6 465.8,394.6 466.3,394.6 466.8,394.6 467.3,394.6 467.8,394.6 468.3,394.6 468.8,394.6 469.3,394.6 469.8,394.6 470.3,394.6 470.8,394.6 471.3,394.6 471.8,394.6 472.3,394.6 472.8,394.6 473.3,394.6 473.8,394.6 474.3,394.6 474.8,394.6 475.3,394.6 475.8,394.6 476.3,394.6 476.8,394.6 477.3,394.6 477.8,394.6 478.3,394.6 478.8,394.6 479.3,394.6 479.8,394.6 480.3,394.6 480.8,394.6 481.3,394.6 481.8,394.6 482.3,394.6 482.8,394.6 483.3,394.6 483.8,394.6 484.3,394.6 484.8,394.6 485.3,394.6 485.8,394.6 486.3,394.6 486.8,394.6 487.3,394.6 487.8,394.6 488.3,394.6 488.8,394.6 489.3,394.6 489.8,394.6 490.3,394.6 490.8,394.6 491.3,394.6 491.8,394.6 492.3,394.6 492.8,394.6 493.3,394.6 493.8,394.6 494.3,394.6 494.8,394.6 495.3,394.6 495.8,394.6 496.3,394.6 496.8,394.6 497.3,394.6 497.8,394.6 498.3,394.6 498.8,394.6 499.3,394.6 499.8,394.6 500.3,394.6 500.8,394.6 501.3,394.59 501.8,394.59 502.3,394.59 502.8,394.59 503.3,394.59 503.8,394.59 504.3,394.59 504.8,394.58 505.3,394.58 505.8,394.58 506.3,394.58 506.8,394.57 507.3,394.57 507.8,394.57 508.3,394.56 508.8,394.56 509.3,394.55 509.8,394.54 510.3,394.54 510.8,394.53 511.3,394.52 511.8,394.51 512.3,394.5 512.8,394.48 513.3,394.47 513.8,394.45 514.3,394.43 514.8,394.41 515.3,394.39 515.8,394.36 516.3,394.33 516.8,394.3 517.3,394.27 517.8,394.23 518.3,394.18 518.8,394.14 519.3,394.08 519.8,394.03 520.3,393.96 520.8,393.89 521.3,393.82 521.8,393.73 522.3,393.64 522.8,393.54 523.3,393.43 523.8,393.31 524.3,393.18 524.8,393.04 525.3,392.89 525.8,392.72 526.3,392.54 526.8,392.35 527.3,392.14 527.8,391.91 528.3,391.66 528.8,391.4 529.3,391.11 529.8,390.81 530.3,390.48 530.8,390.13 531.3,389.75 531.8,389.35 532.3,388.92 532.8,388.46 533.3,387.98 533.8,387.46 534.3,386.91 534.8,386.32 535.3,385.7 535.8,385.04 536.3,384.35 536.8,383.62 537.3,382.85 537.8,382.04 538.3,381.19 538.8,380.29 539.3,379.35 539.8,378.37 540.3,377.34 540.8,376.27 541.3,375.15 541.8,373.99 542.3,372.78 542.8,371.53 543.3,370.22 543.8,368.88 544.3,367.49 544.8,366.05 545.3,364.57 545.8,363.05 546.3,361.48 546.8,359.88 547.3,358.24 547.8,356.56 548.3,354.85 548.8,353.1 549.3,351.33 549.8,349.52 550.3,347.7 550.8,345.85 551.3,343.99 551.8,342.11 552.3,340.22 552.8,338.32 553.3,336.42 553.8,334.52 554.3,332.62 554.8,330.74 555.3,328.86 555.8,327.01 556.3,325.18 556.8,323.38 557.3,321.61 557.8,319.87 558.3,318.18 558.8,316.53 559.3,314.94 559.8,313.4 560.3,311.91 560.8,310.5 561.3,309.15 561.8,307.87 562.3,306.67 562.8,305.55 563.3,304.52 563.8,303.57 564.3,302.7 564.8,301.94 565.3,301.26 565.8,300.68 566.3,300.21 566.8,299.83 567.3,299.55 567.8,299.37 568.3,299.3 568.8,299.34 569.3,299.48 569.8,299.74 570.3,300.1 570.8,300.58 571.3,301.16 571.8,301.85 572.3,302.64 572.8,303.53 573.3,304.52 573.8,305.6 574.3,306.77 574.8,308.03" />
<polyline fill="none" stroke="#000" stroke-width="1.9" stroke-linejoin="round" stroke-linecap="round" points="400.3,394.6 400.8,394.6 401.3,394.6 401.8,394.6 402.3,394.6 402.8,394.6 403.3,394.6 403.8,394.6 404.3,394.6 404.8,394.6 405.3,394.6 405.8,394.6 406.3,394.6 406.8,394.6 407.3,394.6 407.8,394.6 408.3,394.6 408.8,394.6 409.3,394.6 409.8,394.6 410.3,394.6 410.8,394.6 411.3,394.6 411.8,394.6 412.3,394.6 412.8,394.6 413.3,394.6 413.8,394.6 414.3,394.6 414.8,394.6 415.3,394.6 415.8,394.6 416.3,394.6 416.8,394.6 417.3,394.6 417.8,394.59 418.3,394.59 418.8,394.59 419.3,394.59 419.8,394.59 420.3,394.59 420.8,394.59 421.3,394.59 421.8,394.59 422.3,394.59 422.8,394.59 423.3,394.59 423.8,394.59 424.3,394.59 424.8,394.59 425.3,394.58 425.8,394.58 426.3,394.58 426.8,394.58 427.3,394.58 427.8,394.58 428.3,394.58 428.8,394.57 429.3,394.57 429.8,394.57 430.3,394.57 430.8,394.57 431.3,394.57 431.8,394.56 432.3,394.56 432.8,394.56 433.3,394.55 433.8,394.55 434.3,394.55 434.8,394.55 435.3,394.54 435.8,394.54 436.3,394.53 436.8,394.53 437.3,394.53 437.8,394.52 438.3,394.52 438.8,394.51 439.3,394.51 439.8,394.5 440.3,394.49 440.8,394.49 441.3,394.48 441.8,394.47 442.3,394.47 442.8,394.46 443.3,394.45 443.8,394.44 444.3,394.43 444.8,394.42 445.3,394.41 445.8,394.4 446.3,394.39 446.8,394.38 447.3,394.37 447.8,394.35 448.3,394.34 448.8,394.33 449.3,394.31 449.8,394.3 450.3,394.28 450.8,394.26 451.3,394.25 451.8,394.23 452.3,394.21 452.8,394.19 453.3,394.17 453.8,394.15 454.3,394.13 454.8,394.1 455.3,394.08 455.8,394.05 456.3,394.03 456.8,394 457.3,393.97 457.8,393.94 458.3,393.91 458.8,393.88 459.3,393.85 459.8,393.81 460.3,393.78 460.8,393.74 461.3,393.7 461.8,393.66 462.3,393.62 462.8,393.58 463.3,393.54 463.8,393.49 464.3,393.44 464.8,393.4 465.3,393.35 465.8,393.3 466.3,393.24 466.8,393.19 467.3,393.13 467.8,393.08 468.3,393.02 468.8,392.96 469.3,392.89 469.8,392.83 470.3,392.76 470.8,392.7 471.3,392.63 471.8,392.56 472.3,392.48 472.8,392.41 473.3,392.33 473.8,392.25 474.3,392.17 474.8,392.09 475.3,392.01 475.8,391.92 476.3,391.83 476.8,391.74 477.3,391.65 477.8,391.56 478.3,391.47 478.8,391.37 479.3,391.27 479.8,391.17 480.3,391.07 480.8,390.97 481.3,390.86 481.8,390.76 482.3,390.65 482.8,390.54 483.3,390.43 483.8,390.31 484.3,390.2 484.8,390.09 485.3,389.97 485.8,389.85 486.3,389.73 486.8,389.61 487.3,389.49 487.8,389.37 488.3,389.25 488.8,389.12 489.3,389 489.8,388.87 490.3,388.75 490.8,388.62 491.3,388.49 491.8,388.36 492.3,388.24 492.8,388.11 493.3,387.98 493.8,387.85 494.3,387.72 494.8,387.59 495.3,387.47 495.8,387.34 496.3,387.21 496.8,387.08 497.3,386.96 497.8,386.83 498.3,386.71 498.8,386.59 499.3,386.46 499.8,386.34 500.3,386.22 500.8,386.1 501.3,385.98 501.8,385.87 502.3,385.75 502.8,385.64 503.3,385.53 503.8,385.42 504.3,385.31 504.8,385.21 505.3,385.11 505.8,385.01 506.3,384.91 506.8,384.81 507.3,384.72 507.8,384.63 508.3,384.54 508.8,384.45 509.3,384.37 509.8,384.28 510.3,384.2 510.8,384.13 511.3,384.05 511.8,383.98 512.3,383.91 512.8,383.84 513.3,383.77 513.8,383.71 514.3,383.65 514.8,383.59 515.3,383.53 515.8,383.47 516.3,383.42 516.8,383.36 517.3,383.3 517.8,383.25 518.3,383.19 518.8,383.14 519.3,383.08 519.8,383.03 520.3,382.97 520.8,382.91 521.3,382.85 521.8,382.8 522.3,382.73 522.8,382.67 523.3,382.6 523.8,382.53 524.3,382.45 524.8,382.37 525.3,382.28 525.8,382.19 526.3,382.08 526.8,381.96 527.3,381.84 527.8,381.7 528.3,381.55 528.8,381.38 529.3,381.2 529.8,381 530.3,380.79 530.8,380.55 531.3,380.29 531.8,380.01 532.3,379.71 532.8,379.38 533.3,379.02 533.8,378.64 534.3,378.23 534.8,377.78 535.3,377.3 535.8,376.79 536.3,376.25 536.8,375.66 537.3,375.04 537.8,374.38 538.3,373.68 538.8,372.94 539.3,372.15 539.8,371.33 540.3,370.45 540.8,369.54 541.3,368.57 541.8,367.57 542.3,366.51 542.8,365.41 543.3,364.26 543.8,363.07 544.3,361.83 544.8,360.54 545.3,359.21 545.8,357.84 546.3,356.42 546.8,354.97 547.3,353.47 547.8,351.93 548.3,350.36 548.8,348.76 549.3,347.12 549.8,345.45 550.3,343.76 550.8,342.04 551.3,340.3 551.8,338.55 552.3,336.78 552.8,335 553.3,333.22 553.8,331.44 554.3,329.65 554.8,327.88 555.3,326.11 555.8,324.37 556.3,322.64 556.8,320.93 557.3,319.26 557.8,317.62 558.3,316.02 558.8,314.46 559.3,312.95 559.8,311.5 560.3,310.1 560.8,308.76 561.3,307.49 561.8,306.29 562.3,305.16 562.8,304.11 563.3,303.14 563.8,302.25 564.3,301.45 564.8,300.74 565.3,300.12 565.8,299.6 566.3,299.18 566.8,298.85 567.3,298.62 567.8,298.49 568.3,298.47 568.8,298.54 569.3,298.73 569.8,299.02 570.3,299.43 570.8,299.94 571.3,300.56 571.8,301.28 572.3,302.1 572.8,303.02 573.3,304.04 573.8,305.15 574.3,306.35 574.8,307.63 575.3,308.99 575.8,310.43 576.3,311.94 576.8,313.52 577.3,315.16 577.8,316.86 578.3,318.61 578.8,320.41 579.3,322.25 579.8,324.13 580.3,326.03 580.8,327.97 581.3,329.92 581.8,331.89 582.3,333.87 582.8,335.86 583.3,337.85 583.8,339.84 584.3,341.81 584.8,343.78 585.3,345.73 585.8,347.66 586.3,349.57 586.8,351.45 587.3,353.29 587.8,355.11 588.3,356.89 588.8,358.63 589.3,360.34 589.8,362 590.3,363.61 590.8,365.18 591.3,366.71 591.8,368.18 592.3,369.61 592.8,370.98 593.3,372.31 593.8,373.59 594.3,374.82 594.8,375.99 595.3,377.12 595.8,378.2 596.3,379.23 596.8,380.21 597.3,381.15 597.8,382.04 598.3,382.88 598.8,383.68 599.3,384.44 599.8,385.16 600.3,385.83 600.8,386.47 601.3,387.07 601.8,387.63 602.3,388.16 602.8,388.66 603.3,389.12 603.8,389.55 604.3,389.96 604.8,390.34 605.3,390.69 605.8,391.01 606.3,391.32 606.8,391.6 607.3,391.86 607.8,392.1 608.3,392.32 608.8,392.53 609.3,392.71 609.8,392.89 610.3,393.05 610.8,393.19 611.3,393.33 611.8,393.45 612.3,393.56 612.8,393.66 613.3,393.76 613.8,393.84 614.3,393.92 614.8,393.99 615.3,394.05 615.8,394.11 616.3,394.16 616.8,394.21 617.3,394.25 617.8,394.29 618.3,394.32 618.8,394.35 619.3,394.38 619.8,394.41 620.3,394.43 620.8,394.45 621.3,394.47 621.8,394.48 622.3,394.5 622.8,394.51 623.3,394.52 623.8,394.53 624.3,394.54 624.8,394.55 625.3,394.55 625.8,394.56 626.3,394.56 626.8,394.57 627.3,394.57 627.8,394.58 628.3,394.58 628.8,394.58 629.3,394.58 629.8,394.59 630.3,394.59 630.8,394.59 631.3,394.59 631.8,394.59 632.3,394.59 632.8,394.59 633.3,394.6 633.8,394.6 634.3,394.6 634.8,394.6 635.3,394.6 635.8,394.6 636.3,394.6 636.8,394.6 637.3,394.6 637.8,394.6 638.3,394.6 638.8,394.6 639.3,394.6 639.8,394.6 640.3,394.6 640.8,394.6 641.3,394.6 641.8,394.6 642.3,394.6 642.8,394.6 643.3,394.6 643.8,394.6 644.3,394.6 644.8,394.6 645.3,394.6 645.8,394.6 646.3,394.6 646.8,394.6 647.3,394.6 647.8,394.6 648.3,394.6 648.8,394.6 649.3,394.6 649.8,394.6 650.3,394.6 650.8,394.6 651.3,394.6 651.8,394.6 652.3,394.6 652.8,394.6 653.3,394.6 653.8,394.6 654.3,394.6 654.8,394.6 655.3,394.6 655.8,394.6" />
<line x1="570.6" y1="200.4" x2="585.5" y2="189.9" stroke="#000" stroke-width="1.4" />
<line x1="570.3" y1="314.3" x2="585.9" y2="302.7" stroke="#000" stroke-width="1.4" />
<line x1="504.4" y1="261.6" x2="512.3" y2="273.9" stroke="#000" stroke-width="1.4" />
<line x1="505.5" y1="375.5" x2="512.5" y2="387.5" stroke="#000" stroke-width="1.4" />
<rect x="402.5" y="176.5" width="250.7" height="226.7" fill="none" stroke="#000" stroke-width="1.75"/>
<line x1="402.5" y1="289.8" x2="653.2" y2="289.8" stroke="#000" stroke-width="1.75" />
<line x1="403" y1="403" x2="403" y2="407" stroke="#000" stroke-width="1.3" />
<text x="403" y="422.3" font-size="13" font-weight="bold" text-anchor="middle" fill="#000" >406</text>
<line x1="428.1" y1="403" x2="428.1" y2="405.5" stroke="#000" stroke-width="1.3" />
<line x1="453.2" y1="403" x2="453.2" y2="407" stroke="#000" stroke-width="1.3" />
<text x="453.2" y="422.3" font-size="13" font-weight="bold" text-anchor="middle" fill="#000" >404</text>
<line x1="478.3" y1="403" x2="478.3" y2="405.5" stroke="#000" stroke-width="1.3" />
<line x1="503.4" y1="403" x2="503.4" y2="407" stroke="#000" stroke-width="1.3" />
<text x="503.4" y="422.3" font-size="13" font-weight="bold" text-anchor="middle" fill="#000" >402</text>
<line x1="528.5" y1="403" x2="528.5" y2="405.5" stroke="#000" stroke-width="1.3" />
<line x1="553.6" y1="403" x2="553.6" y2="407" stroke="#000" stroke-width="1.3" />
<text x="553.6" y="422.3" font-size="13" font-weight="bold" text-anchor="middle" fill="#000" >400</text>
<line x1="578.7" y1="403" x2="578.7" y2="405.5" stroke="#000" stroke-width="1.3" />
<line x1="603.8" y1="403" x2="603.8" y2="407" stroke="#000" stroke-width="1.3" />
<text x="603.8" y="422.3" font-size="13" font-weight="bold" text-anchor="middle" fill="#000" >398</text>
<line x1="628.9" y1="403" x2="628.9" y2="405.5" stroke="#000" stroke-width="1.3" />
<line x1="654" y1="403" x2="654" y2="407" stroke="#000" stroke-width="1.3" />
<text x="654" y="422.3" font-size="13" font-weight="bold" text-anchor="middle" fill="#000" >396</text>
<text x="528" y="441.6" font-size="13" font-weight="bold" text-anchor="middle" fill="#000" >Binding energy (eV)</text>
<text transform="translate(392.6,291.2) rotate(-90)" font-size="13.2" font-weight="bold" text-anchor="middle" fill="#000">Intensity (a.u.)</text>
<text x="405.5" y="193.3" font-size="13" font-weight="bold" text-anchor="start" fill="#000" >CS N 1<tspan dx="0.8" font-style="italic">s</tspan></text>
<text x="405.6" y="307.5" font-size="13" font-weight="bold" text-anchor="start" fill="#000" >rGO+CS N 1<tspan dx="0.8" font-style="italic">s</tspan></text>
<text x="417.4" y="257.3" font-size="13" font-weight="bold" text-anchor="start" fill="#000" >Protonated amine</text>
<text x="417.2" y="371.1" font-size="13" font-weight="bold" text-anchor="start" fill="#000" >Protonated amine</text>
<text x="591.2" y="190" font-size="13" font-weight="bold" text-anchor="start" fill="#000" >Amine</text>
<text x="590.6" y="304.3" font-size="13" font-weight="bold" text-anchor="start" fill="#000" >Amine</text>
<text x="344" y="178" font-size="19" font-weight="bold" text-anchor="start" fill="#000" >f</text>
<rect x="81.6" y="487.3" width="152.6" height="231.7" fill="#F8CCBA" />
<rect x="234.2" y="487.3" width="16" height="231.7" fill="#B2E1EE" />
<rect x="250.2" y="487.3" width="19.8" height="231.7" fill="#FADFB0" />
<circle cx="76.28" cy="698.62" r="3.0" fill="#C88FD4"/>
<circle cx="75.78" cy="698.12" r="1.2" fill="#F3E6F5"/>
<circle cx="110.06" cy="665.71" r="3.0" fill="#C88FD4"/>
<circle cx="109.56" cy="665.21" r="1.2" fill="#F3E6F5"/>
<circle cx="129.81" cy="646.38" r="3.0" fill="#C88FD4"/>
<circle cx="129.31" cy="645.88" r="1.2" fill="#F3E6F5"/>
<circle cx="143.83" cy="633.15" r="3.0" fill="#C88FD4"/>
<circle cx="143.33" cy="632.65" r="1.2" fill="#F3E6F5"/>
<circle cx="154.71" cy="622.97" r="3.0" fill="#C88FD4"/>
<circle cx="154.21" cy="622.47" r="1.2" fill="#F3E6F5"/>
<circle cx="163.59" cy="614.76" r="3.0" fill="#C88FD4"/>
<circle cx="163.09" cy="614.26" r="1.2" fill="#F3E6F5"/>
<circle cx="171.1" cy="607.97" r="3.0" fill="#C88FD4"/>
<circle cx="170.6" cy="607.47" r="1.2" fill="#F3E6F5"/>
<circle cx="177.61" cy="601.88" r="3.0" fill="#C88FD4"/>
<circle cx="177.11" cy="601.38" r="1.2" fill="#F3E6F5"/>
<circle cx="183.35" cy="596.91" r="3.0" fill="#C88FD4"/>
<circle cx="182.85" cy="596.41" r="1.2" fill="#F3E6F5"/>
<circle cx="188.48" cy="591.35" r="3.0" fill="#C88FD4"/>
<circle cx="187.98" cy="590.85" r="1.2" fill="#F3E6F5"/>
<circle cx="193.13" cy="586.56" r="3.0" fill="#C88FD4"/>
<circle cx="192.63" cy="586.06" r="1.2" fill="#F3E6F5"/>
<circle cx="197.37" cy="582.08" r="3.0" fill="#C88FD4"/>
<circle cx="196.87" cy="581.58" r="1.2" fill="#F3E6F5"/>
<circle cx="201.27" cy="578.01" r="3.0" fill="#C88FD4"/>
<circle cx="200.77" cy="577.51" r="1.2" fill="#F3E6F5"/>
<circle cx="204.88" cy="573.51" r="3.0" fill="#C88FD4"/>
<circle cx="204.38" cy="573.01" r="1.2" fill="#F3E6F5"/>
<circle cx="208.24" cy="569.47" r="3.0" fill="#C88FD4"/>
<circle cx="207.74" cy="568.97" r="1.2" fill="#F3E6F5"/>
<circle cx="211.38" cy="566.34" r="3.0" fill="#C88FD4"/>
<circle cx="210.88" cy="565.84" r="1.2" fill="#F3E6F5"/>
<circle cx="214.34" cy="563.39" r="3.0" fill="#C88FD4"/>
<circle cx="213.84" cy="562.89" r="1.2" fill="#F3E6F5"/>
<circle cx="217.12" cy="560.62" r="3.0" fill="#C88FD4"/>
<circle cx="216.62" cy="560.12" r="1.2" fill="#F3E6F5"/>
<circle cx="219.76" cy="557.59" r="3.0" fill="#C88FD4"/>
<circle cx="219.26" cy="557.09" r="1.2" fill="#F3E6F5"/>
<circle cx="222.26" cy="554.65" r="3.0" fill="#C88FD4"/>
<circle cx="221.76" cy="554.15" r="1.2" fill="#F3E6F5"/>
<circle cx="224.63" cy="551.85" r="3.0" fill="#C88FD4"/>
<circle cx="224.13" cy="551.35" r="1.2" fill="#F3E6F5"/>
<circle cx="226.9" cy="548.83" r="3.0" fill="#C88FD4"/>
<circle cx="226.4" cy="548.33" r="1.2" fill="#F3E6F5"/>
<circle cx="229.07" cy="545.78" r="3.0" fill="#C88FD4"/>
<circle cx="228.57" cy="545.28" r="1.2" fill="#F3E6F5"/>
<circle cx="231.14" cy="542.87" r="3.0" fill="#C88FD4"/>
<circle cx="230.64" cy="542.37" r="1.2" fill="#F3E6F5"/>
<circle cx="233.13" cy="540.07" r="3.0" fill="#C88FD4"/>
<circle cx="232.63" cy="539.57" r="1.2" fill="#F3E6F5"/>
<circle cx="235.04" cy="536.99" r="3.0" fill="#C88FD4"/>
<circle cx="234.54" cy="536.49" r="1.2" fill="#F3E6F5"/>
<circle cx="236.88" cy="533.98" r="3.0" fill="#C88FD4"/>
<circle cx="236.38" cy="533.48" r="1.2" fill="#F3E6F5"/>
<circle cx="238.65" cy="531.09" r="3.0" fill="#C88FD4"/>
<circle cx="238.15" cy="530.59" r="1.2" fill="#F3E6F5"/>
<circle cx="240.36" cy="528.33" r="3.0" fill="#C88FD4"/>
<circle cx="239.86" cy="527.83" r="1.2" fill="#F3E6F5"/>
<circle cx="242.01" cy="525.73" r="3.0" fill="#C88FD4"/>
<circle cx="241.51" cy="525.23" r="1.2" fill="#F3E6F5"/>
<circle cx="243.61" cy="523.21" r="3.0" fill="#C88FD4"/>
<circle cx="243.11" cy="522.71" r="1.2" fill="#F3E6F5"/>
<circle cx="245.16" cy="520.78" r="3.0" fill="#C88FD4"/>
<circle cx="244.66" cy="520.28" r="1.2" fill="#F3E6F5"/>
<circle cx="246.66" cy="518.3" r="3.0" fill="#C88FD4"/>
<circle cx="246.16" cy="517.8" r="1.2" fill="#F3E6F5"/>
<circle cx="248.11" cy="515.43" r="3.0" fill="#C88FD4"/>
<circle cx="247.61" cy="514.93" r="1.2" fill="#F3E6F5"/>
<circle cx="249.53" cy="512.64" r="3.0" fill="#C88FD4"/>
<circle cx="249.03" cy="512.14" r="1.2" fill="#F3E6F5"/>
<circle cx="250.9" cy="509.92" r="3.0" fill="#C88FD4"/>
<circle cx="250.4" cy="509.42" r="1.2" fill="#F3E6F5"/>
<circle cx="252.23" cy="507.15" r="3.0" fill="#C88FD4"/>
<circle cx="251.73" cy="506.65" r="1.2" fill="#F3E6F5"/>
<circle cx="253.53" cy="504.28" r="3.0" fill="#C88FD4"/>
<circle cx="253.03" cy="503.78" r="1.2" fill="#F3E6F5"/>
<circle cx="254.8" cy="501.49" r="3.0" fill="#C88FD4"/>
<circle cx="254.3" cy="500.99" r="1.2" fill="#F3E6F5"/>
<circle cx="256.03" cy="498.77" r="3.0" fill="#C88FD4"/>
<circle cx="255.53" cy="498.27" r="1.2" fill="#F3E6F5"/>
<polyline fill="none" stroke="#E0281E" stroke-width="2.1" stroke-dasharray="5.2 3.6" points="74.5,700.1 218,561.8"/>
<polyline fill="none" stroke="#007A6A" stroke-width="2.1" stroke-dasharray="5.2 3.6" points="235.5,538.6 256,500.7"/>
<text x="182.6" y="641.6" font-size="13" font-weight="bold" text-anchor="middle" fill="#000" >I</text>
<text x="241.4" y="641.6" font-size="13" font-weight="bold" text-anchor="middle" fill="#000" >II</text>
<text x="260.3" y="641.6" font-size="13" font-weight="bold" text-anchor="middle" fill="#000" >III</text>
<rect x="57" y="486" width="257.7" height="233.5" fill="none" stroke="#000" stroke-width="1.75"/>
<line x1="52" y1="719.8" x2="57" y2="719.8" stroke="#000" stroke-width="1.6" />
<text x="46.6" y="723.5" font-size="13" font-weight="bold" text-anchor="end">10<tspan font-size="8.5" dy="-5">−8</tspan></text>
<line x1="54.2" y1="684.61" x2="57" y2="684.61" stroke="#000" stroke-width="1.4" />
<line x1="54.2" y1="664.02" x2="57" y2="664.02" stroke="#000" stroke-width="1.4" />
<line x1="54.2" y1="649.42" x2="57" y2="649.42" stroke="#000" stroke-width="1.4" />
<line x1="54.2" y1="638.09" x2="57" y2="638.09" stroke="#000" stroke-width="1.4" />
<line x1="54.2" y1="628.83" x2="57" y2="628.83" stroke="#000" stroke-width="1.4" />
<line x1="54.2" y1="621.01" x2="57" y2="621.01" stroke="#000" stroke-width="1.4" />
<line x1="54.2" y1="614.23" x2="57" y2="614.23" stroke="#000" stroke-width="1.4" />
<line x1="54.2" y1="608.25" x2="57" y2="608.25" stroke="#000" stroke-width="1.4" />
<line x1="52" y1="602.9" x2="57" y2="602.9" stroke="#000" stroke-width="1.6" />
<text x="46.6" y="606.6" font-size="13" font-weight="bold" text-anchor="end">10<tspan font-size="8.5" dy="-5">−7</tspan></text>
<line x1="54.2" y1="567.71" x2="57" y2="567.71" stroke="#000" stroke-width="1.4" />
<line x1="54.2" y1="547.12" x2="57" y2="547.12" stroke="#000" stroke-width="1.4" />
<line x1="54.2" y1="532.52" x2="57" y2="532.52" stroke="#000" stroke-width="1.4" />
<line x1="54.2" y1="521.19" x2="57" y2="521.19" stroke="#000" stroke-width="1.4" />
<line x1="54.2" y1="511.93" x2="57" y2="511.93" stroke="#000" stroke-width="1.4" />
<line x1="54.2" y1="504.11" x2="57" y2="504.11" stroke="#000" stroke-width="1.4" />
<line x1="54.2" y1="497.33" x2="57" y2="497.33" stroke="#000" stroke-width="1.4" />
<line x1="54.2" y1="491.35" x2="57" y2="491.35" stroke="#000" stroke-width="1.4" />
<line x1="52" y1="486" x2="57" y2="486" stroke="#000" stroke-width="1.6" />
<text x="46.6" y="489.7" font-size="13" font-weight="bold" text-anchor="end">10<tspan font-size="8.5" dy="-5">−6</tspan></text>
<line x1="56.52" y1="719.5" x2="56.52" y2="722.1" stroke="#000" stroke-width="1.4" />
<line x1="65.41" y1="719.5" x2="65.41" y2="722.1" stroke="#000" stroke-width="1.4" />
<line x1="72.92" y1="719.5" x2="72.92" y2="722.1" stroke="#000" stroke-width="1.4" />
<line x1="79.43" y1="719.5" x2="79.43" y2="722.1" stroke="#000" stroke-width="1.4" />
<line x1="85.17" y1="719.5" x2="85.17" y2="722.1" stroke="#000" stroke-width="1.4" />
<line x1="90.3" y1="719.5" x2="90.3" y2="724" stroke="#000" stroke-width="1.6" />
<line x1="124.08" y1="719.5" x2="124.08" y2="722.1" stroke="#000" stroke-width="1.4" />
<line x1="143.83" y1="719.5" x2="143.83" y2="722.1" stroke="#000" stroke-width="1.4" />
<line x1="157.85" y1="719.5" x2="157.85" y2="722.1" stroke="#000" stroke-width="1.4" />
<line x1="168.72" y1="719.5" x2="168.72" y2="722.1" stroke="#000" stroke-width="1.4" />
<line x1="177.61" y1="719.5" x2="177.61" y2="722.1" stroke="#000" stroke-width="1.4" />
<line x1="185.12" y1="719.5" x2="185.12" y2="722.1" stroke="#000" stroke-width="1.4" />
<line x1="191.63" y1="719.5" x2="191.63" y2="722.1" stroke="#000" stroke-width="1.4" />
<line x1="197.37" y1="719.5" x2="197.37" y2="722.1" stroke="#000" stroke-width="1.4" />
<line x1="202.5" y1="719.5" x2="202.5" y2="724" stroke="#000" stroke-width="1.6" />
<line x1="236.28" y1="719.5" x2="236.28" y2="722.1" stroke="#000" stroke-width="1.4" />
<line x1="256.03" y1="719.5" x2="256.03" y2="722.1" stroke="#000" stroke-width="1.4" />
<line x1="270.05" y1="719.5" x2="270.05" y2="722.1" stroke="#000" stroke-width="1.4" />
<line x1="280.92" y1="719.5" x2="280.92" y2="722.1" stroke="#000" stroke-width="1.4" />
<line x1="289.81" y1="719.5" x2="289.81" y2="722.1" stroke="#000" stroke-width="1.4" />
<line x1="297.32" y1="719.5" x2="297.32" y2="722.1" stroke="#000" stroke-width="1.4" />
<line x1="303.83" y1="719.5" x2="303.83" y2="722.1" stroke="#000" stroke-width="1.4" />
<line x1="309.57" y1="719.5" x2="309.57" y2="722.1" stroke="#000" stroke-width="1.4" />
<line x1="314.7" y1="719.5" x2="314.7" y2="724" stroke="#000" stroke-width="1.6" />
<text x="90.3" y="739.3" font-size="13" font-weight="bold" text-anchor="middle" fill="#000" >0.1</text>
<text x="202.5" y="739.3" font-size="13" font-weight="bold" text-anchor="middle" fill="#000" >1</text>
<text x="314.7" y="739.3" font-size="13" font-weight="bold" text-anchor="middle" fill="#000" >10</text>
<text x="186" y="759.6" font-size="13" font-weight="bold" text-anchor="middle" fill="#000" >Voltage (V)</text>
<text transform="translate(10.6,602.6) rotate(-90)" font-size="13" font-weight="bold" text-anchor="middle" fill="#000">Current (A)</text>
<text x="-0.5" y="480.8" font-size="19" font-weight="bold" text-anchor="start" fill="#000" >g</text>
<rect x="419" y="486.2" width="157.9" height="232.8" fill="#F8CCBA" />
<rect x="576.9" y="486.2" width="31.4" height="232.8" fill="#B2E1EE" />
<circle cx="421.54" cy="698.61" r="3.1" fill="#2A52B0" stroke="#2550AE" stroke-width="0.6"/>
<circle cx="420.84" cy="697.91" r="0.9" fill="#DCE4F5"/>
<circle cx="455.89" cy="661.14" r="3.1" fill="#2A52B0" stroke="#2550AE" stroke-width="0.6"/>
<circle cx="455.19" cy="660.44" r="0.9" fill="#DCE4F5"/>
<circle cx="475.98" cy="638.29" r="3.1" fill="#2A52B0" stroke="#2550AE" stroke-width="0.6"/>
<circle cx="475.28" cy="637.59" r="0.9" fill="#DCE4F5"/>
<circle cx="490.24" cy="621.32" r="3.1" fill="#2A52B0" stroke="#2550AE" stroke-width="0.6"/>
<circle cx="489.54" cy="620.62" r="0.9" fill="#DCE4F5"/>
<circle cx="501.3" cy="607.4" r="3.1" fill="#2A52B0" stroke="#2550AE" stroke-width="0.6"/>
<circle cx="500.6" cy="606.7" r="0.9" fill="#DCE4F5"/>
<circle cx="510.33" cy="596.13" r="3.1" fill="#2A52B0" stroke="#2550AE" stroke-width="0.6"/>
<circle cx="509.63" cy="595.43" r="0.9" fill="#DCE4F5"/>
<circle cx="517.97" cy="587" r="3.1" fill="#2A52B0" stroke="#2550AE" stroke-width="0.6"/>
<circle cx="517.27" cy="586.3" r="0.9" fill="#DCE4F5"/>
<circle cx="524.59" cy="579.4" r="3.1" fill="#2A52B0" stroke="#2550AE" stroke-width="0.6"/>
<circle cx="523.89" cy="578.7" r="0.9" fill="#DCE4F5"/>
<circle cx="530.42" cy="572.95" r="3.1" fill="#2A52B0" stroke="#2550AE" stroke-width="0.6"/>
<circle cx="529.72" cy="572.25" r="0.9" fill="#DCE4F5"/>
<circle cx="535.64" cy="566.53" r="3.1" fill="#2A52B0" stroke="#2550AE" stroke-width="0.6"/>
<circle cx="534.94" cy="565.83" r="0.9" fill="#DCE4F5"/>
<circle cx="540.37" cy="561.04" r="3.1" fill="#2A52B0" stroke="#2550AE" stroke-width="0.6"/>
<circle cx="539.67" cy="560.34" r="0.9" fill="#DCE4F5"/>
<circle cx="544.68" cy="555.81" r="3.1" fill="#2A52B0" stroke="#2550AE" stroke-width="0.6"/>
<circle cx="543.98" cy="555.11" r="0.9" fill="#DCE4F5"/>
<circle cx="548.65" cy="550.9" r="3.1" fill="#2A52B0" stroke="#2550AE" stroke-width="0.6"/>
<circle cx="547.95" cy="550.2" r="0.9" fill="#DCE4F5"/>
<circle cx="552.32" cy="546.35" r="3.1" fill="#2A52B0" stroke="#2550AE" stroke-width="0.6"/>
<circle cx="551.62" cy="545.65" r="0.9" fill="#DCE4F5"/>
<circle cx="555.74" cy="542.11" r="3.1" fill="#2A52B0" stroke="#2550AE" stroke-width="0.6"/>
<circle cx="555.04" cy="541.41" r="0.9" fill="#DCE4F5"/>
<circle cx="558.93" cy="538.14" r="3.1" fill="#2A52B0" stroke="#2550AE" stroke-width="0.6"/>
<circle cx="558.23" cy="537.44" r="0.9" fill="#DCE4F5"/>
<circle cx="561.94" cy="534.43" r="3.1" fill="#2A52B0" stroke="#2550AE" stroke-width="0.6"/>
<circle cx="561.24" cy="533.73" r="0.9" fill="#DCE4F5"/>
<circle cx="564.77" cy="531.02" r="3.1" fill="#2A52B0" stroke="#2550AE" stroke-width="0.6"/>
<circle cx="564.07" cy="530.32" r="0.9" fill="#DCE4F5"/>
<circle cx="567.45" cy="527.79" r="3.1" fill="#2A52B0" stroke="#2550AE" stroke-width="0.6"/>
<circle cx="566.75" cy="527.09" r="0.9" fill="#DCE4F5"/>
<circle cx="569.99" cy="524.73" r="3.1" fill="#2A52B0" stroke="#2550AE" stroke-width="0.6"/>
<circle cx="569.29" cy="524.03" r="0.9" fill="#DCE4F5"/>
<circle cx="572.41" cy="521.81" r="3.1" fill="#2A52B0" stroke="#2550AE" stroke-width="0.6"/>
<circle cx="571.71" cy="521.11" r="0.9" fill="#DCE4F5"/>
<circle cx="574.71" cy="519.03" r="3.1" fill="#2A52B0" stroke="#2550AE" stroke-width="0.6"/>
<circle cx="574.01" cy="518.33" r="0.9" fill="#DCE4F5"/>
<circle cx="576.92" cy="516.38" r="3.1" fill="#2A52B0" stroke="#2550AE" stroke-width="0.6"/>
<circle cx="576.22" cy="515.68" r="0.9" fill="#DCE4F5"/>
<circle cx="579.03" cy="513.84" r="3.1" fill="#2A52B0" stroke="#2550AE" stroke-width="0.6"/>
<circle cx="578.33" cy="513.14" r="0.9" fill="#DCE4F5"/>
<circle cx="581.05" cy="511.4" r="3.1" fill="#2A52B0" stroke="#2550AE" stroke-width="0.6"/>
<circle cx="580.35" cy="510.7" r="0.9" fill="#DCE4F5"/>
<circle cx="582.99" cy="509.63" r="3.1" fill="#2A52B0" stroke="#2550AE" stroke-width="0.6"/>
<circle cx="582.29" cy="508.93" r="0.9" fill="#DCE4F5"/>
<circle cx="584.86" cy="507.95" r="3.1" fill="#2A52B0" stroke="#2550AE" stroke-width="0.6"/>
<circle cx="584.16" cy="507.25" r="0.9" fill="#DCE4F5"/>
<circle cx="586.67" cy="506.34" r="3.1" fill="#2A52B0" stroke="#2550AE" stroke-width="0.6"/>
<circle cx="585.97" cy="505.64" r="0.9" fill="#DCE4F5"/>
<circle cx="588.4" cy="504.79" r="3.1" fill="#2A52B0" stroke="#2550AE" stroke-width="0.6"/>
<circle cx="587.7" cy="504.09" r="0.9" fill="#DCE4F5"/>
<circle cx="590.08" cy="503.58" r="3.1" fill="#2A52B0" stroke="#2550AE" stroke-width="0.6"/>
<circle cx="589.38" cy="502.88" r="0.9" fill="#DCE4F5"/>
<circle cx="591.71" cy="502.63" r="3.1" fill="#2A52B0" stroke="#2550AE" stroke-width="0.6"/>
<circle cx="591.01" cy="501.93" r="0.9" fill="#DCE4F5"/>
<circle cx="593.28" cy="501.72" r="3.1" fill="#2A52B0" stroke="#2550AE" stroke-width="0.6"/>
<circle cx="592.58" cy="501.02" r="0.9" fill="#DCE4F5"/>
<circle cx="594.81" cy="500.84" r="3.1" fill="#2A52B0" stroke="#2550AE" stroke-width="0.6"/>
<circle cx="594.11" cy="500.14" r="0.9" fill="#DCE4F5"/>
<circle cx="596.29" cy="499.98" r="3.1" fill="#2A52B0" stroke="#2550AE" stroke-width="0.6"/>
<circle cx="595.59" cy="499.28" r="0.9" fill="#DCE4F5"/>
<circle cx="597.72" cy="499.36" r="3.1" fill="#2A52B0" stroke="#2550AE" stroke-width="0.6"/>
<circle cx="597.02" cy="498.66" r="0.9" fill="#DCE4F5"/>
<circle cx="599.12" cy="498.99" r="3.1" fill="#2A52B0" stroke="#2550AE" stroke-width="0.6"/>
<circle cx="598.42" cy="498.29" r="0.9" fill="#DCE4F5"/>
<circle cx="600.48" cy="498.63" r="3.1" fill="#2A52B0" stroke="#2550AE" stroke-width="0.6"/>
<circle cx="599.78" cy="497.93" r="0.9" fill="#DCE4F5"/>
<circle cx="601.8" cy="498.27" r="3.1" fill="#2A52B0" stroke="#2550AE" stroke-width="0.6"/>
<circle cx="601.1" cy="497.57" r="0.9" fill="#DCE4F5"/>
<circle cx="603.08" cy="497.93" r="3.1" fill="#2A52B0" stroke="#2550AE" stroke-width="0.6"/>
<circle cx="602.38" cy="497.23" r="0.9" fill="#DCE4F5"/>
<circle cx="604.34" cy="497.59" r="3.1" fill="#2A52B0" stroke="#2550AE" stroke-width="0.6"/>
<circle cx="603.64" cy="496.89" r="0.9" fill="#DCE4F5"/>
<polyline fill="none" stroke="#E0281E" stroke-width="2.1" stroke-dasharray="5.2 3.6" points="420.5,700.3 582,511.8"/>
<text x="519.5" y="626.7" font-size="13" font-weight="bold" text-anchor="middle" fill="#000" >I</text>
<text x="592.6" y="626.7" font-size="13" font-weight="bold" text-anchor="middle" fill="#000" >II</text>
<rect x="402.5" y="485" width="261.8" height="234.5" fill="none" stroke="#000" stroke-width="1.75"/>
<line x1="397.5" y1="719.7" x2="402.5" y2="719.7" stroke="#000" stroke-width="1.6" />
<text x="391.9" y="723.4" font-size="13" font-weight="bold" text-anchor="end">10<tspan font-size="8.5" dy="-5">−8</tspan></text>
<line x1="399.7" y1="684.37" x2="402.5" y2="684.37" stroke="#000" stroke-width="1.4" />
<line x1="399.7" y1="663.71" x2="402.5" y2="663.71" stroke="#000" stroke-width="1.4" />
<line x1="399.7" y1="649.05" x2="402.5" y2="649.05" stroke="#000" stroke-width="1.4" />
<line x1="399.7" y1="637.68" x2="402.5" y2="637.68" stroke="#000" stroke-width="1.4" />
<line x1="399.7" y1="628.38" x2="402.5" y2="628.38" stroke="#000" stroke-width="1.4" />
<line x1="399.7" y1="620.53" x2="402.5" y2="620.53" stroke="#000" stroke-width="1.4" />
<line x1="399.7" y1="613.72" x2="402.5" y2="613.72" stroke="#000" stroke-width="1.4" />
<line x1="399.7" y1="607.72" x2="402.5" y2="607.72" stroke="#000" stroke-width="1.4" />
<line x1="397.5" y1="602.35" x2="402.5" y2="602.35" stroke="#000" stroke-width="1.6" />
<text x="391.9" y="606.05" font-size="13" font-weight="bold" text-anchor="end">10<tspan font-size="8.5" dy="-5">−7</tspan></text>
<line x1="399.7" y1="567.02" x2="402.5" y2="567.02" stroke="#000" stroke-width="1.4" />
<line x1="399.7" y1="546.36" x2="402.5" y2="546.36" stroke="#000" stroke-width="1.4" />
<line x1="399.7" y1="531.7" x2="402.5" y2="531.7" stroke="#000" stroke-width="1.4" />
<line x1="399.7" y1="520.33" x2="402.5" y2="520.33" stroke="#000" stroke-width="1.4" />
<line x1="399.7" y1="511.03" x2="402.5" y2="511.03" stroke="#000" stroke-width="1.4" />
<line x1="399.7" y1="503.18" x2="402.5" y2="503.18" stroke="#000" stroke-width="1.4" />
<line x1="399.7" y1="496.37" x2="402.5" y2="496.37" stroke="#000" stroke-width="1.4" />
<line x1="399.7" y1="490.37" x2="402.5" y2="490.37" stroke="#000" stroke-width="1.4" />
<line x1="397.5" y1="485" x2="402.5" y2="485" stroke="#000" stroke-width="1.6" />
<text x="391.9" y="488.7" font-size="13" font-weight="bold" text-anchor="end">10<tspan font-size="8.5" dy="-5">−6</tspan></text>
<line x1="410.49" y1="719.5" x2="410.49" y2="722.1" stroke="#000" stroke-width="1.4" />
<line x1="418.13" y1="719.5" x2="418.13" y2="722.1" stroke="#000" stroke-width="1.4" />
<line x1="424.74" y1="719.5" x2="424.74" y2="722.1" stroke="#000" stroke-width="1.4" />
<line x1="430.58" y1="719.5" x2="430.58" y2="722.1" stroke="#000" stroke-width="1.4" />
<line x1="435.8" y1="719.5" x2="435.8" y2="724" stroke="#000" stroke-width="1.6" />
<line x1="470.15" y1="719.5" x2="470.15" y2="722.1" stroke="#000" stroke-width="1.4" />
<line x1="490.24" y1="719.5" x2="490.24" y2="722.1" stroke="#000" stroke-width="1.4" />
<line x1="504.5" y1="719.5" x2="504.5" y2="722.1" stroke="#000" stroke-width="1.4" />
<line x1="515.55" y1="719.5" x2="515.55" y2="722.1" stroke="#000" stroke-width="1.4" />
<line x1="524.59" y1="719.5" x2="524.59" y2="722.1" stroke="#000" stroke-width="1.4" />
<line x1="532.23" y1="719.5" x2="532.23" y2="722.1" stroke="#000" stroke-width="1.4" />
<line x1="538.84" y1="719.5" x2="538.84" y2="722.1" stroke="#000" stroke-width="1.4" />
<line x1="544.68" y1="719.5" x2="544.68" y2="722.1" stroke="#000" stroke-width="1.4" />
<line x1="549.9" y1="719.5" x2="549.9" y2="724" stroke="#000" stroke-width="1.6" />
<line x1="584.25" y1="719.5" x2="584.25" y2="722.1" stroke="#000" stroke-width="1.4" />
<line x1="604.34" y1="719.5" x2="604.34" y2="722.1" stroke="#000" stroke-width="1.4" />
<line x1="618.6" y1="719.5" x2="618.6" y2="722.1" stroke="#000" stroke-width="1.4" />
<line x1="629.65" y1="719.5" x2="629.65" y2="722.1" stroke="#000" stroke-width="1.4" />
<line x1="638.69" y1="719.5" x2="638.69" y2="722.1" stroke="#000" stroke-width="1.4" />
<line x1="646.33" y1="719.5" x2="646.33" y2="722.1" stroke="#000" stroke-width="1.4" />
<line x1="652.94" y1="719.5" x2="652.94" y2="722.1" stroke="#000" stroke-width="1.4" />
<line x1="658.78" y1="719.5" x2="658.78" y2="722.1" stroke="#000" stroke-width="1.4" />
<line x1="664" y1="719.5" x2="664" y2="724" stroke="#000" stroke-width="1.6" />
<text x="435.8" y="739.3" font-size="13" font-weight="bold" text-anchor="middle" fill="#000" >0.1</text>
<text x="549.9" y="739.3" font-size="13" font-weight="bold" text-anchor="middle" fill="#000" >1</text>
<text x="664" y="739.3" font-size="13" font-weight="bold" text-anchor="middle" fill="#000" >10</text>
<text x="533" y="759.6" font-size="13" font-weight="bold" text-anchor="middle" fill="#000" >Voltage (V)</text>
<text transform="translate(356.1,602.6) rotate(-90)" font-size="13" font-weight="bold" text-anchor="middle" fill="#000">Current (A)</text>
<text x="345" y="480.8" font-size="19" font-weight="bold" text-anchor="start" fill="#000" >h</text>
</svg>
</body></html>
